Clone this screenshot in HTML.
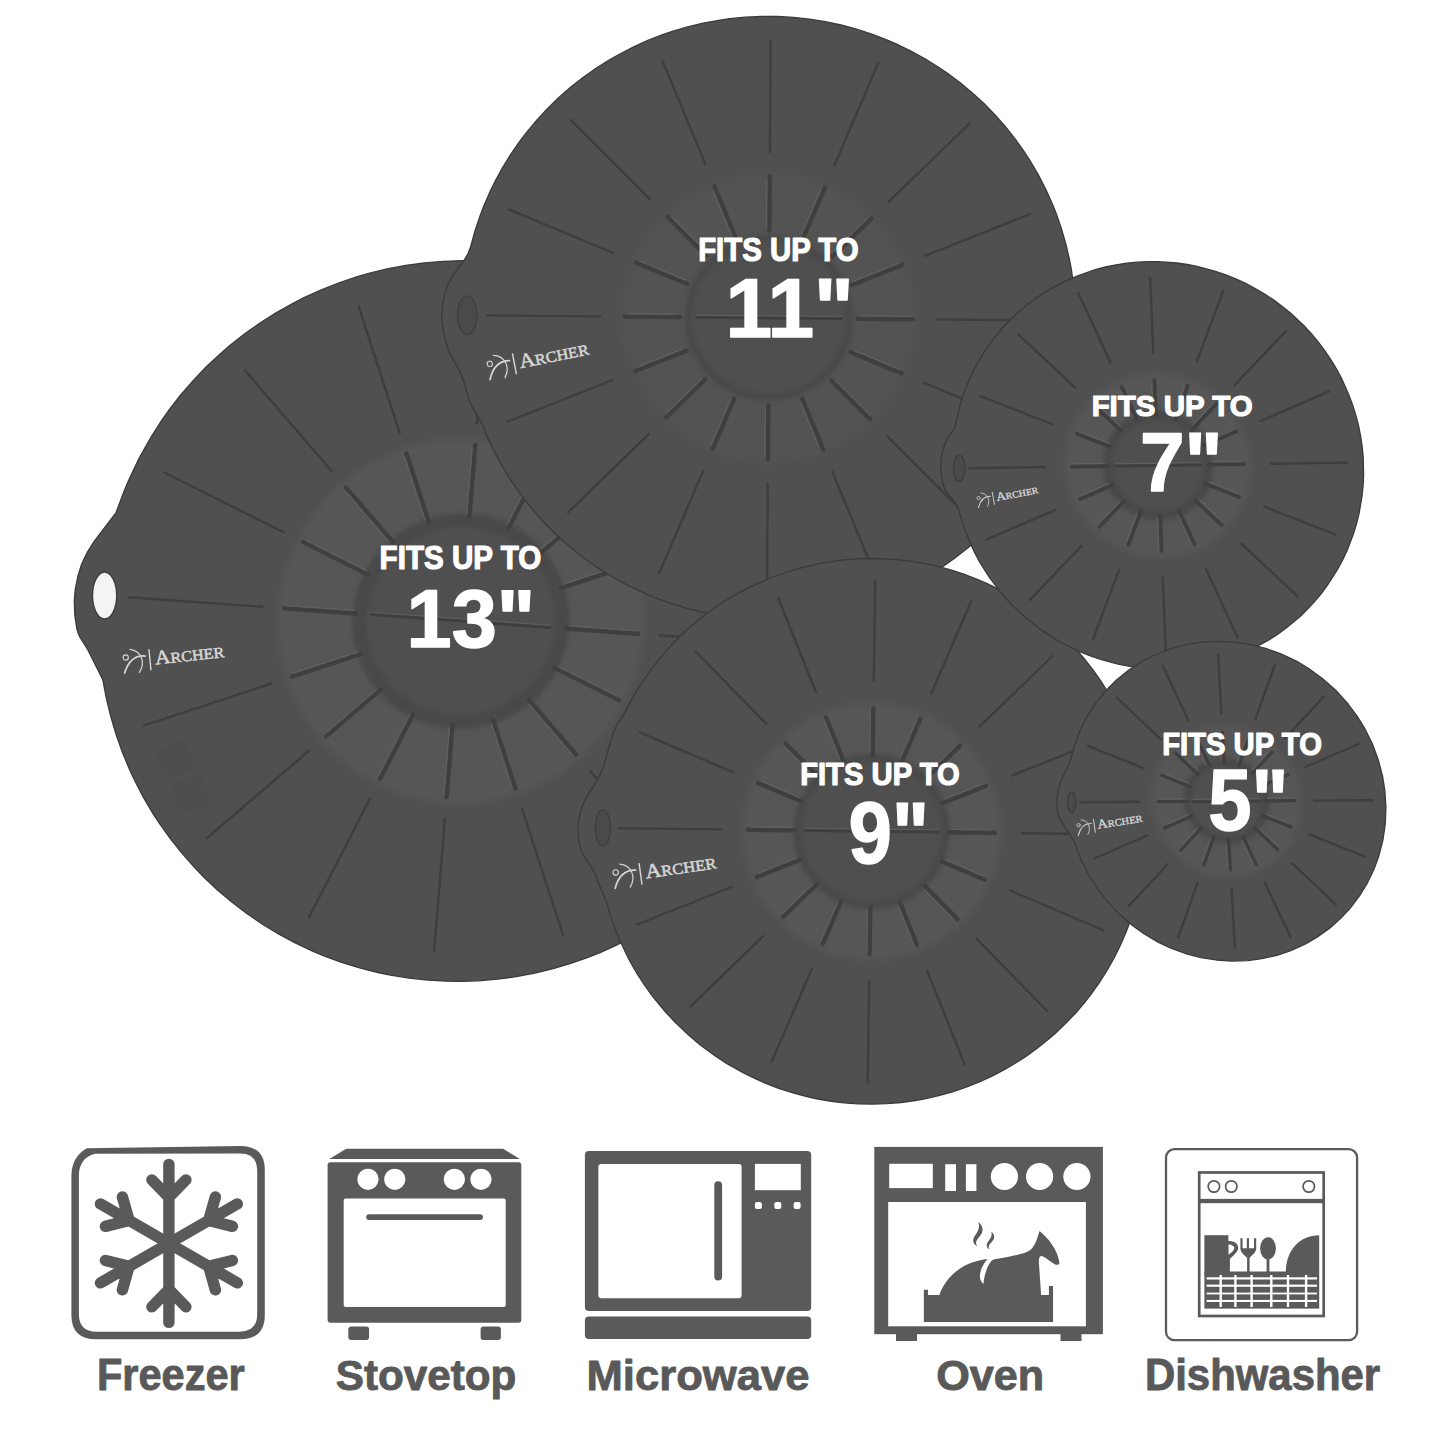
<!DOCTYPE html>
<html><head><meta charset="utf-8"><style>
html,body{margin:0;padding:0;background:#fff;}
svg{display:block;}
</style></head><body>
<svg width="1445" height="1445" viewBox="0 0 1445 1445">
<rect width="1445" height="1445" fill="#ffffff"/>
<filter id="soft" x="-20%" y="-20%" width="140%" height="140%"><feGaussianBlur stdDeviation="3"/></filter>
<filter id="soft2" x="-20%" y="-20%" width="140%" height="140%"><feGaussianBlur stdDeviation="2"/></filter>
<clipPath id="clip0"><path d="M102.2,678.5 L103.1,681.1 L106.2,697.6 L110.6,715.9 L115.9,733.9 L122.1,751.6 L129.3,769 L134.7,780.5 L143.3,797.2 L152.8,813.3 L159.8,823.9 L170.7,839.2 L182.5,853.9 L194.9,867.9 L203.7,877 L217.4,889.9 L231.8,902.1 L246.8,913.5 L262.4,924.2 L278.5,933.9 L295.2,942.9 L312.1,950.9 L323.9,955.8 L341.6,962.3 L359.7,967.9 L377.9,972.5 L390.4,975.1 L409.1,978.1 L427.9,980.1 L446.7,981.2 L459.5,981.4 L478.4,980.8 L497.4,979.2 L516.2,976.7 L534.8,973.1 L553.3,968.6 L571.5,963.2 L589.3,956.9 L601.2,952.1 L618.5,944.2 L635.3,935.4 L651.6,925.8 L667.5,915.3 L682.8,904 L697.4,891.9 L707,883.4 L720.5,870.2 L733.3,856.2 L745.5,841.6 L753.2,831.5 L763.9,816 L773.9,799.8 L783,783.2 L788.7,771.8 L796.3,754.5 L803,736.8 L808.8,718.8 L813.6,700.5 L817.5,682 L820.3,663.4 L822.2,644.6 L823,631.9 L823.2,613.2 L822.5,594.3 L820.7,575.5 L818,556.9 L814.3,538.4 L811.3,526.1 L806,508.2 L799.7,490.4 L792.5,473 L787.2,461.5 L778.5,444.8 L769,428.7 L762.1,418.1 L751.1,402.8 L739.4,388.1 L727,374.1 L718.1,365 L704.4,352.1 L690.1,339.9 L675.1,328.5 L659.5,317.9 L643.3,308.1 L626.7,299.2 L609.7,291.2 L598,286.3 L580.2,279.8 L562.2,274.2 L544,269.6 L531.5,267 L512.8,263.9 L493.9,261.9 L475.1,260.8 L462.4,260.7 L443.4,261.3 L424.5,262.8 L405.7,265.4 L387,268.9 L368.7,273.4 L356.4,276.9 L338.4,283 L320.7,290 L303.5,297.8 L292.1,303.7 L275.6,313 L259.6,323.2 L244.1,334.2 L229.2,346 L219.6,354.4 L205.8,367.3 L192.7,381.1 L180.3,395.5 L168.7,410.5 L161.4,420.9 L151.2,436.8 L138.8,458.9 L128,481.8 L123.2,493.5 L115.9,513 L93.8,541.9 L87.3,552.4 L81.6,564.2 L78,575.7 L75.2,589.9 L74.3,600.5 L74.8,615.2 L76.8,628.7 L78.1,633.1 L79.7,636.8 L87.8,649.7 L102.2,678.5Z"/></clipPath>
<path d="M102.2,678.5 L103.1,681.1 L106.2,697.6 L110.6,715.9 L115.9,733.9 L122.1,751.6 L129.3,769 L134.7,780.5 L143.3,797.2 L152.8,813.3 L159.8,823.9 L170.7,839.2 L182.5,853.9 L194.9,867.9 L203.7,877 L217.4,889.9 L231.8,902.1 L246.8,913.5 L262.4,924.2 L278.5,933.9 L295.2,942.9 L312.1,950.9 L323.9,955.8 L341.6,962.3 L359.7,967.9 L377.9,972.5 L390.4,975.1 L409.1,978.1 L427.9,980.1 L446.7,981.2 L459.5,981.4 L478.4,980.8 L497.4,979.2 L516.2,976.7 L534.8,973.1 L553.3,968.6 L571.5,963.2 L589.3,956.9 L601.2,952.1 L618.5,944.2 L635.3,935.4 L651.6,925.8 L667.5,915.3 L682.8,904 L697.4,891.9 L707,883.4 L720.5,870.2 L733.3,856.2 L745.5,841.6 L753.2,831.5 L763.9,816 L773.9,799.8 L783,783.2 L788.7,771.8 L796.3,754.5 L803,736.8 L808.8,718.8 L813.6,700.5 L817.5,682 L820.3,663.4 L822.2,644.6 L823,631.9 L823.2,613.2 L822.5,594.3 L820.7,575.5 L818,556.9 L814.3,538.4 L811.3,526.1 L806,508.2 L799.7,490.4 L792.5,473 L787.2,461.5 L778.5,444.8 L769,428.7 L762.1,418.1 L751.1,402.8 L739.4,388.1 L727,374.1 L718.1,365 L704.4,352.1 L690.1,339.9 L675.1,328.5 L659.5,317.9 L643.3,308.1 L626.7,299.2 L609.7,291.2 L598,286.3 L580.2,279.8 L562.2,274.2 L544,269.6 L531.5,267 L512.8,263.9 L493.9,261.9 L475.1,260.8 L462.4,260.7 L443.4,261.3 L424.5,262.8 L405.7,265.4 L387,268.9 L368.7,273.4 L356.4,276.9 L338.4,283 L320.7,290 L303.5,297.8 L292.1,303.7 L275.6,313 L259.6,323.2 L244.1,334.2 L229.2,346 L219.6,354.4 L205.8,367.3 L192.7,381.1 L180.3,395.5 L168.7,410.5 L161.4,420.9 L151.2,436.8 L138.8,458.9 L128,481.8 L123.2,493.5 L115.9,513 L93.8,541.9 L87.3,552.4 L81.6,564.2 L78,575.7 L75.2,589.9 L74.3,600.5 L74.8,615.2 L76.8,628.7 L78.1,633.1 L79.7,636.8 L87.8,649.7 L102.2,678.5Z" fill="#505050"/>
<g clip-path="url(#clip0)">
<path d="M621.3,532.1 L625.7,540.5 L629.6,549.2 L633.1,558 L636.1,567 L638.6,576.2 L640.7,585.5 L642.2,594.9 L643.3,604.3 L643.8,613.8 L643.9,623.4 L643.4,632.9 L642.4,642.4 L641,651.8 L639,661.2 L636.6,670.4 L633.7,679.5 L630.3,688.4 L626.4,697.2 L622.1,705.7 L617.4,714 L612.2,722.1 L606.6,729.9 L600.6,737.4 L594.2,744.5 L587.5,751.3 L580.4,757.8 L573,763.9 L565.3,769.6 L557.2,774.9 L549,779.8 L540.5,784.2 L531.7,788.2 L522.8,791.7 L513.7,794.8 L504.5,797.4 L495.1,799.5 L485.6,801.1 L476.1,802.2 L466.6,802.9 L457,803 L447.4,802.6 L437.9,801.7 L428.4,800.4 L419,798.5 L409.8,796.2 L400.6,793.4 L391.7,790.1 L382.9,786.3 L374.4,782.1 L366,777.4 L358,772.3 L350.2,766.9 L342.7,761 L335.6,754.7 L328.8,748 L322.3,741 L316.3,733.7 L310.6,726.1 L305.4,718.2 L300.5,710 L296.1,701.5 L292.2,692.9 L288.7,684 L285.7,675 L283.2,665.8 L281.2,656.6 L279.6,647.2 L278.6,637.7 L278,628.2 L278,618.7 L278.5,609.2 L279.4,599.7 L280.9,590.2 L282.8,580.9 L285.3,571.7 L288.2,562.6 L291.6,553.6 L295.4,544.9 L299.7,536.3 L304.5,528 L309.7,519.9 L315.3,512.2 L321.3,504.7 L327.6,497.5 L334.4,490.7 L341.5,484.2 L348.9,478.1 L356.6,472.4 L364.6,467.1 L372.9,462.3 L381.4,457.8 L390.1,453.8 L399.1,450.3 L408.2,447.2 L417.4,444.7 L426.8,442.5 L436.2,440.9 L445.7,439.8 L455.3,439.2 L464.9,439.1 L474.4,439.4 L484,440.3 L493.4,441.7 L502.8,443.5 L512.1,445.9 L521.2,448.7 L530.2,452 L538.9,455.7 L547.5,460 L555.8,464.6 L563.9,469.7 L571.6,475.2 L579.1,481.1 L586.3,487.4 L593.1,494 L599.5,501 L605.6,508.3 L611.2,516 L616.5,523.9Z" fill="#575757" filter="url(#soft)"/>
<path d="M556.2,568.2 L558.8,573.2 L561.2,578.3 L563.2,583.6 L565,588.9 L566.5,594.4 L567.7,599.9 L568.6,605.5 L569.2,611.1 L569.6,616.8 L569.6,622.4 L569.3,628.1 L568.8,633.7 L567.9,639.3 L566.7,644.9 L565.3,650.3 L563.6,655.8 L561.5,661.1 L559.2,666.3 L556.7,671.3 L553.9,676.3 L550.8,681.1 L547.5,685.7 L543.9,690.1 L540.1,694.4 L536.1,698.4 L531.9,702.3 L527.5,705.9 L522.9,709.3 L518.1,712.4 L513.2,715.3 L508.2,718 L503,720.3 L497.7,722.4 L492.3,724.3 L486.8,725.8 L481.2,727 L475.6,728 L470,728.7 L464.3,729 L458.6,729.1 L452.9,728.9 L447.2,728.4 L441.6,727.6 L436,726.5 L430.5,725.1 L425.1,723.4 L419.8,721.4 L414.6,719.2 L409.5,716.7 L404.6,713.9 L399.8,710.9 L395.2,707.7 L390.7,704.1 L386.5,700.4 L382.4,696.5 L378.6,692.3 L375,688 L371.6,683.4 L368.5,678.7 L365.6,673.9 L363,668.9 L360.7,663.7 L358.6,658.5 L356.9,653.1 L355.4,647.7 L354.1,642.1 L353.2,636.6 L352.6,630.9 L352.3,625.3 L352.3,619.6 L352.5,614 L353.1,608.3 L354,602.7 L355.1,597.2 L356.6,591.7 L358.3,586.3 L360.3,581 L362.6,575.8 L365.2,570.7 L368,565.8 L371.1,561 L374.4,556.4 L378,551.9 L381.7,547.7 L385.7,543.6 L390,539.8 L394.4,536.1 L399,532.8 L403.7,529.6 L408.6,526.7 L413.7,524.1 L418.9,521.7 L424.2,519.6 L429.6,517.8 L435.1,516.2 L440.6,515 L446.2,514 L451.9,513.4 L457.6,513 L463.3,512.9 L469,513.1 L474.6,513.7 L480.2,514.5 L485.8,515.6 L491.3,517 L496.7,518.6 L502.1,520.6 L507.3,522.8 L512.4,525.3 L517.3,528.1 L522.1,531.1 L526.7,534.4 L531.1,537.9 L535.4,541.6 L539.4,545.6 L543.3,549.7 L546.9,554.1 L550.2,558.6 L553.3,563.3Z" fill="#484848" filter="url(#soft2)"/>
<path d="M543.5,575.2 L545.8,579.6 L547.8,584 L549.6,588.6 L551.1,593.2 L552.4,597.9 L553.5,602.7 L554.3,607.6 L554.8,612.4 L555.1,617.3 L555.1,622.2 L554.9,627.1 L554.4,632 L553.6,636.9 L552.6,641.7 L551.4,646.4 L549.9,651.1 L548.1,655.7 L546.1,660.2 L543.9,664.6 L541.5,668.9 L538.8,673.1 L535.9,677.1 L532.8,680.9 L529.6,684.6 L526.1,688.1 L522.4,691.5 L518.6,694.6 L514.6,697.5 L510.5,700.2 L506.3,702.8 L501.9,705 L497.4,707.1 L492.8,708.9 L488.1,710.5 L483.3,711.8 L478.5,712.9 L473.7,713.7 L468.7,714.3 L463.8,714.6 L458.9,714.7 L454,714.5 L449.1,714.1 L444.2,713.4 L439.4,712.4 L434.6,711.2 L429.9,709.7 L425.3,708 L420.8,706.1 L416.4,703.9 L412.1,701.5 L407.9,698.9 L403.9,696.1 L400.1,693.1 L396.4,689.8 L392.9,686.4 L389.6,682.8 L386.5,679 L383.5,675.1 L380.8,671 L378.4,666.8 L376.1,662.5 L374.1,658 L372.3,653.5 L370.7,648.8 L369.4,644.1 L368.4,639.3 L367.6,634.5 L367.1,629.6 L366.8,624.7 L366.7,619.8 L367,614.9 L367.5,610 L368.2,605.2 L369.2,600.4 L370.5,595.6 L372,590.9 L373.7,586.3 L375.7,581.8 L377.9,577.4 L380.4,573.1 L383.1,569 L385.9,565 L389,561.1 L392.3,557.4 L395.8,553.9 L399.4,550.6 L403.2,547.5 L407.2,544.5 L411.3,541.8 L415.6,539.3 L420,537 L424.5,534.9 L429.1,533.1 L433.8,531.6 L438.5,530.2 L443.3,529.1 L448.2,528.3 L453.1,527.7 L458,527.4 L463,527.3 L467.9,527.5 L472.8,528 L477.7,528.7 L482.5,529.6 L487.3,530.8 L492,532.3 L496.6,534 L501.1,535.9 L505.5,538.1 L509.8,540.5 L513.9,543.1 L517.9,545.9 L521.8,549 L525.5,552.2 L529,555.6 L532.3,559.2 L535.4,563 L538.3,566.9 L541,571Z" fill="#4f4f4f" filter="url(#soft2)"/>
<path d="M262.3,606.8 L128.7,597.2 M283.6,532.2 L164.2,472.5 M331.8,471.2 L245,370.4 M399.7,432.9 L358.6,306.4 M477,423.3 L487.7,290.4 M551.7,443.8 L612.8,324.6 M612.7,491.3 L714.8,404 M650.6,558.5 L778.1,516.5 M659.6,635.2 L793.2,644.8 M638.3,709.8 L757.6,769.5 M590,770.9 L676.9,871.7 M522.1,809.1 L563.3,935.6 M444.9,818.7 L434.1,951.7 M370.1,798.2 L309,917.4 M309.1,750.7 L207,838 M271.3,683.5 L143.7,725.6" stroke="#3e3e3e" stroke-width="2.4" stroke-linecap="round" fill="none"/>
<path d="M356.2,613.5 L284,608.3 M367.4,574.2 L302.9,541.9 M392.9,542 L345.9,487.5 M428.7,521.9 L406.4,453.5 M469.4,516.8 L475.2,444.9 M508.8,527.6 L541.8,463.2 M541,552.6 L596.2,505.5 M560.9,588.1 L629.9,565.3 M565.7,628.5 L637.9,633.7 M554.5,667.8 L618.9,700.1 M529,700 L576,754.5 M493.2,720.2 L515.5,788.6 M452.5,725.3 L446.6,797.1 M413,714.4 L380,778.9 M380.9,689.4 L325.7,736.6 M360.9,654 L292,676.7" stroke="#3f3f3f" stroke-width="4.4" stroke-linecap="round" fill="none"/>
<path d="M353.4,610.4 L287.2,605.7 M366,570.3 L306.9,540.7 M388.7,541.6 L345.7,491.7 M425,519.9 L404.6,457.2 M466.7,513.6 L472.1,447.7 M507.6,523.6 L537.9,464.5 M541.4,548.5 L592,505.2 M562.9,584.4 L626.1,563.5 M568.9,625.8 L635.1,630.6 M558.4,666.6 L617.6,696.2 M528.8,704.2 L571.8,754.1 M491.4,723.9 L511.8,786.6 M449.3,728 L444,793.9 M409.1,715.8 L378.8,774.9 M376.7,689.2 L326.1,732.4 M357.2,652.2 L293.9,673" stroke="#606060" stroke-width="1.3" stroke-linecap="round" fill="none"/>
<path d="M371.7,614.6 L550.1,627.4" stroke="#606060" stroke-width="1.4" fill="none" transform="translate(0,-2)"/>
<path d="M371.7,614.6 L550.1,627.4" stroke="#3f3f3f" stroke-width="3" stroke-linecap="round" fill="none"/>
</g>
<ellipse cx="104.6" cy="595.5" rx="12.1" ry="23.5" fill="#f4f4f4" stroke="#3e3e3e" stroke-width="1.4"/>
<path d="M102.2,678.5 L103.1,681.1 L106.2,697.6 L110.6,715.9 L115.9,733.9 L122.1,751.6 L129.3,769 L134.7,780.5 L143.3,797.2 L152.8,813.3 L159.8,823.9 L170.7,839.2 L182.5,853.9 L194.9,867.9 L203.7,877 L217.4,889.9 L231.8,902.1 L246.8,913.5 L262.4,924.2 L278.5,933.9 L295.2,942.9 L312.1,950.9 L323.9,955.8 L341.6,962.3 L359.7,967.9 L377.9,972.5 L390.4,975.1 L409.1,978.1 L427.9,980.1 L446.7,981.2 L459.5,981.4 L478.4,980.8 L497.4,979.2 L516.2,976.7 L534.8,973.1 L553.3,968.6 L571.5,963.2 L589.3,956.9 L601.2,952.1 L618.5,944.2 L635.3,935.4 L651.6,925.8 L667.5,915.3 L682.8,904 L697.4,891.9 L707,883.4 L720.5,870.2 L733.3,856.2 L745.5,841.6 L753.2,831.5 L763.9,816 L773.9,799.8 L783,783.2 L788.7,771.8 L796.3,754.5 L803,736.8 L808.8,718.8 L813.6,700.5 L817.5,682 L820.3,663.4 L822.2,644.6 L823,631.9 L823.2,613.2 L822.5,594.3 L820.7,575.5 L818,556.9 L814.3,538.4 L811.3,526.1 L806,508.2 L799.7,490.4 L792.5,473 L787.2,461.5 L778.5,444.8 L769,428.7 L762.1,418.1 L751.1,402.8 L739.4,388.1 L727,374.1 L718.1,365 L704.4,352.1 L690.1,339.9 L675.1,328.5 L659.5,317.9 L643.3,308.1 L626.7,299.2 L609.7,291.2 L598,286.3 L580.2,279.8 L562.2,274.2 L544,269.6 L531.5,267 L512.8,263.9 L493.9,261.9 L475.1,260.8 L462.4,260.7 L443.4,261.3 L424.5,262.8 L405.7,265.4 L387,268.9 L368.7,273.4 L356.4,276.9 L338.4,283 L320.7,290 L303.5,297.8 L292.1,303.7 L275.6,313 L259.6,323.2 L244.1,334.2 L229.2,346 L219.6,354.4 L205.8,367.3 L192.7,381.1 L180.3,395.5 L168.7,410.5 L161.4,420.9 L151.2,436.8 L138.8,458.9 L128,481.8 L123.2,493.5 L115.9,513 L93.8,541.9 L87.3,552.4 L81.6,564.2 L78,575.7 L75.2,589.9 L74.3,600.5 L74.8,615.2 L76.8,628.7 L78.1,633.1 L79.7,636.8 L87.8,649.7 L102.2,678.5Z" fill="none" stroke="#3a3a3a" stroke-width="1.3"/>
<g fill="#4c4c4c" stroke="#4a4a4a" stroke-width="1" opacity="0.45"><rect x="160" y="745" width="30" height="30" rx="3" transform="rotate(-20 175 760)"/><rect x="176" y="779" width="30" height="30" rx="3" transform="rotate(-20 191 794)"/></g>
<g transform="translate(155.4,664.6) rotate(-6.26) scale(1.000)" fill="#d6d6d6" stroke="#d6d6d6" stroke-linecap="round"><text x="0" y="0" font-family="'Liberation Serif', serif" font-size="20" stroke-width="0.5" textLength="69.7" lengthAdjust="spacingAndGlyphs">A<tspan font-size="15">RCHER</tspan></text><path d="M-4.8,-15.4 L-5.0,4.6" stroke-width="1.4" fill="none"/><path d="M-9.1,-9.6 Q-23.9,-12.5 -31.5,5.0" stroke-width="1.7" fill="none"/><path d="M-23.5,-17.8 C-12.8,-15.1 -9.1,-3.6 -16.7,6.0" stroke-width="1.2" fill="none"/><circle cx="-28.7" cy="-10.3" r="2.6" stroke-width="1.1" fill="none"/></g>
<clipPath id="clip1"><path d="M481.6,423 L487.4,436.9 L494.1,451.2 L501.7,465.2 L509.8,478.6 L515.8,487.6 L525.2,500.4 L535.3,512.7 L545.9,524.4 L553.5,532 L565.2,542.8 L577.5,553 L590.2,562.5 L599.1,568.6 L612.7,577 L626.7,584.8 L641.1,591.7 L655.9,598 L671,603.4 L686.3,608.1 L701.8,612 L712.4,614.2 L728.2,616.7 L744,618.4 L760.1,619.3 L776.1,619.4 L792.2,618.7 L808.1,617.1 L818.8,615.6 L834.5,612.7 L850.1,608.9 L865.4,604.4 L875.6,600.9 L890.4,595.1 L905,588.5 L919.2,581.1 L928.5,575.8 L941.9,567.3 L954.9,558.1 L967.4,548.2 L975.5,541.2 L987,530.4 L998,518.9 L1008.3,506.9 L1014.9,498.4 L1024.1,485.6 L1032.7,472.3 L1040.5,458.5 L1047.5,444.4 L1053.8,429.9 L1059.4,415.1 L1064.1,400 L1066.8,389.7 L1070.2,374.4 L1072.7,358.8 L1074.4,343.1 L1075.1,332.5 L1075.4,316.7 L1074.9,300.9 L1073.5,285.2 L1071.4,269.7 L1069.4,259.2 L1065.8,243.8 L1061.4,228.6 L1056.3,213.8 L1052.3,203.8 L1045.8,189.4 L1038.6,175.3 L1030.6,161.7 L1024.8,152.7 L1015.7,139.7 L1005.8,127.2 L995.3,115.2 L984.2,103.8 L972.4,93 L960.2,82.8 L947.5,73.3 L938.6,67.2 L925,58.8 L910.9,51.1 L896.6,44.1 L886.7,39.8 L871.7,34.1 L856.5,29.2 L841,25 L825.3,21.7 L809.4,19.1 L793.6,17.4 L777.6,16.5 L761.5,16.4 L745.5,17.2 L729.5,18.7 L718.8,20.3 L703.2,23.2 L687.6,26.9 L672.2,31.4 L662,34.9 L647.2,40.7 L632.7,47.3 L618.5,54.7 L609.1,60 L595.7,68.5 L582.7,77.7 L570.2,87.6 L558.3,98.1 L546.9,109.2 L536.1,120.9 L526,133.1 L519.5,141.6 L510.6,154.6 L502.3,168.1 L494.7,182 L490.1,191.6 L483.8,206 L480,215.9 L475,230.9 L470.5,247.2 L468.2,253.3 L464,260.6 L452.2,276.2 L450.3,279.4 L447.7,285 L444.8,293.8 L443.3,300.1 L442.3,306.7 L441.8,313.2 L441.9,319.7 L443.1,329.7 L445.2,339.7 L448,348.8 L450.9,355 L458.6,368.9 L461.3,374.6 L463.7,381.3 L467.9,396.4 L470.5,403.2 L474,410.3 L481.6,423Z"/></clipPath>
<path d="M481.6,423 L487.4,436.9 L494.1,451.2 L501.7,465.2 L509.8,478.6 L515.8,487.6 L525.2,500.4 L535.3,512.7 L545.9,524.4 L553.5,532 L565.2,542.8 L577.5,553 L590.2,562.5 L599.1,568.6 L612.7,577 L626.7,584.8 L641.1,591.7 L655.9,598 L671,603.4 L686.3,608.1 L701.8,612 L712.4,614.2 L728.2,616.7 L744,618.4 L760.1,619.3 L776.1,619.4 L792.2,618.7 L808.1,617.1 L818.8,615.6 L834.5,612.7 L850.1,608.9 L865.4,604.4 L875.6,600.9 L890.4,595.1 L905,588.5 L919.2,581.1 L928.5,575.8 L941.9,567.3 L954.9,558.1 L967.4,548.2 L975.5,541.2 L987,530.4 L998,518.9 L1008.3,506.9 L1014.9,498.4 L1024.1,485.6 L1032.7,472.3 L1040.5,458.5 L1047.5,444.4 L1053.8,429.9 L1059.4,415.1 L1064.1,400 L1066.8,389.7 L1070.2,374.4 L1072.7,358.8 L1074.4,343.1 L1075.1,332.5 L1075.4,316.7 L1074.9,300.9 L1073.5,285.2 L1071.4,269.7 L1069.4,259.2 L1065.8,243.8 L1061.4,228.6 L1056.3,213.8 L1052.3,203.8 L1045.8,189.4 L1038.6,175.3 L1030.6,161.7 L1024.8,152.7 L1015.7,139.7 L1005.8,127.2 L995.3,115.2 L984.2,103.8 L972.4,93 L960.2,82.8 L947.5,73.3 L938.6,67.2 L925,58.8 L910.9,51.1 L896.6,44.1 L886.7,39.8 L871.7,34.1 L856.5,29.2 L841,25 L825.3,21.7 L809.4,19.1 L793.6,17.4 L777.6,16.5 L761.5,16.4 L745.5,17.2 L729.5,18.7 L718.8,20.3 L703.2,23.2 L687.6,26.9 L672.2,31.4 L662,34.9 L647.2,40.7 L632.7,47.3 L618.5,54.7 L609.1,60 L595.7,68.5 L582.7,77.7 L570.2,87.6 L558.3,98.1 L546.9,109.2 L536.1,120.9 L526,133.1 L519.5,141.6 L510.6,154.6 L502.3,168.1 L494.7,182 L490.1,191.6 L483.8,206 L480,215.9 L475,230.9 L470.5,247.2 L468.2,253.3 L464,260.6 L452.2,276.2 L450.3,279.4 L447.7,285 L444.8,293.8 L443.3,300.1 L442.3,306.7 L441.8,313.2 L441.9,319.7 L443.1,329.7 L445.2,339.7 L448,348.8 L450.9,355 L458.6,368.9 L461.3,374.6 L463.7,381.3 L467.9,396.4 L470.5,403.2 L474,410.3 L481.6,423Z" fill="#505050"/>
<g clip-path="url(#clip1)">
<path d="M780.7,173.7 L788.3,174.5 L796,175.7 L803.5,177.3 L810.9,179.3 L818.2,181.7 L825.4,184.5 L832.5,187.6 L839.3,191 L846,194.9 L852.4,199 L858.7,203.5 L864.6,208.3 L870.4,213.4 L875.8,218.8 L880.9,224.4 L885.8,230.4 L890.3,236.5 L894.5,242.9 L898.3,249.5 L901.8,256.2 L904.9,263.2 L907.7,270.3 L910,277.5 L912,284.8 L913.6,292.2 L914.8,299.7 L915.6,307.3 L916,314.8 L915.9,322.4 L915.5,330 L914.7,337.5 L913.5,345 L911.9,352.4 L909.8,359.7 L907.5,366.9 L904.7,374 L901.5,380.9 L898,387.6 L894.1,394.2 L889.9,400.5 L885.4,406.6 L880.5,412.5 L875.4,418.1 L869.9,423.4 L864.2,428.4 L858.2,433.2 L851.9,437.6 L845.5,441.7 L838.8,445.5 L831.9,448.9 L824.9,451.9 L817.7,454.6 L810.3,456.9 L802.9,458.8 L795.3,460.4 L787.7,461.5 L780.1,462.3 L772.4,462.6 L764.7,462.6 L757,462.2 L749.3,461.3 L741.7,460.1 L734.2,458.5 L726.7,456.5 L719.4,454.1 L712.2,451.4 L705.2,448.3 L698.3,444.8 L691.6,441 L685.2,436.8 L679,432.3 L673,427.5 L667.3,422.4 L661.8,417 L656.7,411.4 L651.9,405.5 L647.3,399.3 L643.2,392.9 L639.3,386.4 L635.8,379.6 L632.7,372.7 L630,365.6 L627.6,358.3 L625.6,351 L624,343.6 L622.9,336.1 L622.1,328.6 L621.7,321 L621.7,313.4 L622.1,305.8 L622.9,298.3 L624.2,290.8 L625.8,283.4 L627.8,276.1 L630.2,268.9 L633,261.9 L636.1,255 L639.6,248.2 L643.5,241.7 L647.7,235.3 L652.2,229.2 L657.1,223.4 L662.3,217.8 L667.7,212.4 L673.5,207.4 L679.5,202.6 L685.7,198.2 L692.2,194.1 L698.9,190.4 L705.7,187 L712.8,183.9 L720,181.2 L727.3,178.9 L734.8,177 L742.3,175.5 L749.9,174.3 L757.6,173.6 L765.3,173.2 L773,173.2Z" fill="#525252" filter="url(#soft)"/>
<path d="M775.6,235.3 L780,235.7 L784.4,236.4 L788.7,237.4 L792.9,238.5 L797.1,239.9 L801.3,241.5 L805.3,243.2 L809.2,245.2 L813,247.4 L816.7,249.8 L820.3,252.4 L823.7,255.1 L827,258 L830.1,261.1 L833.1,264.4 L835.8,267.8 L838.4,271.3 L840.8,274.9 L843,278.7 L845,282.6 L846.8,286.6 L848.4,290.6 L849.7,294.8 L850.9,299 L851.8,303.2 L852.4,307.5 L852.9,311.8 L853.1,316.2 L853.1,320.5 L852.9,324.8 L852.4,329.1 L851.7,333.4 L850.8,337.7 L849.6,341.9 L848.2,346 L846.7,350 L844.9,354 L842.8,357.8 L840.6,361.6 L838.2,365.2 L835.6,368.7 L832.8,372.1 L829.9,375.3 L826.7,378.4 L823.4,381.2 L820,384 L816.4,386.5 L812.7,388.8 L808.9,391 L805,392.9 L800.9,394.7 L796.8,396.2 L792.6,397.5 L788.3,398.6 L784,399.5 L779.6,400.2 L775.3,400.6 L770.8,400.8 L766.4,400.8 L762,400.6 L757.6,400.1 L753.3,399.4 L749,398.5 L744.7,397.3 L740.5,396 L736.4,394.4 L732.4,392.6 L728.4,390.6 L724.6,388.4 L720.9,386 L717.3,383.5 L713.9,380.7 L710.6,377.8 L707.5,374.7 L704.6,371.5 L701.8,368.1 L699.2,364.6 L696.8,360.9 L694.6,357.1 L692.6,353.3 L690.8,349.3 L689.3,345.2 L687.9,341.1 L686.8,336.9 L685.9,332.6 L685.2,328.3 L684.7,324 L684.5,319.7 L684.5,315.3 L684.8,311 L685.2,306.7 L685.9,302.4 L686.9,298.2 L688,294 L689.4,289.8 L691,285.8 L692.8,281.8 L694.8,278 L697,274.2 L699.4,270.6 L702,267.1 L704.8,263.7 L707.8,260.5 L710.9,257.5 L714.2,254.6 L717.6,251.9 L721.2,249.3 L724.9,247 L728.7,244.8 L732.7,242.9 L736.7,241.1 L740.8,239.6 L745,238.3 L749.3,237.2 L753.6,236.3 L758,235.6 L762.4,235.2 L766.8,235 L771.2,235Z" fill="#484848" filter="url(#soft2)"/>
<path d="M775,242.8 L779,243.2 L783,243.9 L786.9,244.7 L790.8,245.7 L794.6,247 L798.3,248.4 L802,250 L805.5,251.8 L809,253.8 L812.4,256 L815.6,258.3 L818.7,260.8 L821.7,263.5 L824.5,266.3 L827.2,269.2 L829.7,272.3 L832.1,275.5 L834.3,278.8 L836.3,282.3 L838.1,285.8 L839.7,289.4 L841.1,293.1 L842.4,296.9 L843.4,300.7 L844.2,304.5 L844.8,308.4 L845.3,312.4 L845.5,316.3 L845.4,320.3 L845.2,324.2 L844.8,328.1 L844.2,332 L843.3,335.9 L842.3,339.7 L841,343.4 L839.6,347.1 L837.9,350.7 L836.1,354.2 L834.1,357.6 L831.9,360.9 L829.5,364.1 L827,367.2 L824.3,370.1 L821.5,372.9 L818.5,375.5 L815.4,378 L812.1,380.3 L808.7,382.4 L805.3,384.3 L801.7,386.1 L798,387.7 L794.3,389.1 L790.4,390.3 L786.6,391.3 L782.6,392.1 L778.7,392.7 L774.7,393.1 L770.7,393.3 L766.6,393.3 L762.6,393 L758.7,392.6 L754.7,392 L750.8,391.1 L746.9,390.1 L743.1,388.9 L739.3,387.4 L735.7,385.8 L732.1,384 L728.6,382 L725.3,379.8 L722,377.5 L718.9,375 L715.9,372.3 L713.1,369.5 L710.4,366.6 L707.9,363.5 L705.6,360.3 L703.4,357 L701.4,353.6 L699.6,350 L697.9,346.4 L696.5,342.7 L695.3,339 L694.2,335.2 L693.4,331.3 L692.8,327.4 L692.4,323.5 L692.2,319.5 L692.2,315.6 L692.4,311.6 L692.8,307.7 L693.5,303.8 L694.3,300 L695.4,296.1 L696.6,292.4 L698.1,288.7 L699.7,285.1 L701.5,281.6 L703.5,278.2 L705.7,274.9 L708.1,271.7 L710.6,268.7 L713.3,265.8 L716.2,263 L719.2,260.3 L722.3,257.9 L725.5,255.6 L728.9,253.4 L732.4,251.5 L736,249.7 L739.6,248.1 L743.4,246.7 L747.2,245.5 L751.1,244.5 L755,243.7 L759,243.1 L763,242.7 L767,242.5 L771,242.6Z" fill="#4f4f4f" filter="url(#soft2)"/>
<path d="M600.2,316.4 L486.7,315.4 M613.4,253 L508.9,209.4 M650.3,199.6 L570.6,119.9 M705.3,164.1 L662.5,60.6 M769.9,152.1 L770.6,40.5 M834.4,165.3 L878.4,62.6 M888.8,201.7 L969.6,123.5 M925,255.8 L1030.1,214.1 M937.5,319.4 L1050.9,320.5 M924.2,382.8 L1028.7,426.4 M887.3,436.3 L967,515.9 M832.4,471.7 L875.1,575.2 M767.7,483.8 L767,595.3 M703.3,470.6 L659.2,573.3 M648.8,434.1 L568.1,512.3 M612.6,380 L507.5,421.7" stroke="#3e3e3e" stroke-width="2.4" stroke-linecap="round" fill="none"/>
<path d="M679.9,317.1 L624.7,316.6 M686.9,283.7 L636,262.5 M706.3,255.5 L667.6,216.8 M735.3,236.8 L714.5,186.5 M769.4,230.5 L769.7,176.2 M803.4,237.4 L824.8,187.5 M832.1,256.6 L871.4,218.6 M851.2,285.2 L902.3,264.9 M857.7,318.7 L912.9,319.2 M850.8,352.1 L901.6,373.4 M831.3,380.3 L870.1,419.1 M802.3,399 L823.1,449.4 M768.3,405.4 L767.9,459.6 M734.3,398.4 L712.8,448.4 M705.5,379.2 L666.3,417.2 M686.5,350.6 L635.3,371" stroke="#3f3f3f" stroke-width="4.4" stroke-linecap="round" fill="none"/>
<path d="M676.9,314.2 L627.7,313.7 M685.2,279.9 L639.9,261 M706.3,251.3 L671.7,216.8 M731.5,235.1 L713,190.4 M766.5,227.4 L766.8,179.2 M801.9,233.5 L821,189.1 M832.2,252.5 L867.2,218.6 M852.9,281.4 L898.5,263.3 M860.8,315.8 L910,316.3 M854.6,350.6 L900,369.5 M835.5,380.4 L870,414.9 M800.8,402.9 L819.3,447.7 M765.3,408.3 L765,456.6 M730.4,400 L711.3,444.5 M701.4,379.2 L666.4,413 M682.6,349.1 L637,367.2" stroke="#606060" stroke-width="1.3" stroke-linecap="round" fill="none"/>
<path d="M696,317.3 L841.6,318.6" stroke="#606060" stroke-width="1.4" fill="none" transform="translate(0,-2)"/>
<path d="M696,317.3 L841.6,318.6" stroke="#3f3f3f" stroke-width="3" stroke-linecap="round" fill="none"/>
</g>
<ellipse cx="467.3" cy="315.2" rx="9.6" ry="19.3" fill="#4a4a4a" stroke="#3e3e3e" stroke-width="1.4"/>
<path d="M481.6,423 L487.4,436.9 L494.1,451.2 L501.7,465.2 L509.8,478.6 L515.8,487.6 L525.2,500.4 L535.3,512.7 L545.9,524.4 L553.5,532 L565.2,542.8 L577.5,553 L590.2,562.5 L599.1,568.6 L612.7,577 L626.7,584.8 L641.1,591.7 L655.9,598 L671,603.4 L686.3,608.1 L701.8,612 L712.4,614.2 L728.2,616.7 L744,618.4 L760.1,619.3 L776.1,619.4 L792.2,618.7 L808.1,617.1 L818.8,615.6 L834.5,612.7 L850.1,608.9 L865.4,604.4 L875.6,600.9 L890.4,595.1 L905,588.5 L919.2,581.1 L928.5,575.8 L941.9,567.3 L954.9,558.1 L967.4,548.2 L975.5,541.2 L987,530.4 L998,518.9 L1008.3,506.9 L1014.9,498.4 L1024.1,485.6 L1032.7,472.3 L1040.5,458.5 L1047.5,444.4 L1053.8,429.9 L1059.4,415.1 L1064.1,400 L1066.8,389.7 L1070.2,374.4 L1072.7,358.8 L1074.4,343.1 L1075.1,332.5 L1075.4,316.7 L1074.9,300.9 L1073.5,285.2 L1071.4,269.7 L1069.4,259.2 L1065.8,243.8 L1061.4,228.6 L1056.3,213.8 L1052.3,203.8 L1045.8,189.4 L1038.6,175.3 L1030.6,161.7 L1024.8,152.7 L1015.7,139.7 L1005.8,127.2 L995.3,115.2 L984.2,103.8 L972.4,93 L960.2,82.8 L947.5,73.3 L938.6,67.2 L925,58.8 L910.9,51.1 L896.6,44.1 L886.7,39.8 L871.7,34.1 L856.5,29.2 L841,25 L825.3,21.7 L809.4,19.1 L793.6,17.4 L777.6,16.5 L761.5,16.4 L745.5,17.2 L729.5,18.7 L718.8,20.3 L703.2,23.2 L687.6,26.9 L672.2,31.4 L662,34.9 L647.2,40.7 L632.7,47.3 L618.5,54.7 L609.1,60 L595.7,68.5 L582.7,77.7 L570.2,87.6 L558.3,98.1 L546.9,109.2 L536.1,120.9 L526,133.1 L519.5,141.6 L510.6,154.6 L502.3,168.1 L494.7,182 L490.1,191.6 L483.8,206 L480,215.9 L475,230.9 L470.5,247.2 L468.2,253.3 L464,260.6 L452.2,276.2 L450.3,279.4 L447.7,285 L444.8,293.8 L443.3,300.1 L442.3,306.7 L441.8,313.2 L441.9,319.7 L443.1,329.7 L445.2,339.7 L448,348.8 L450.9,355 L458.6,368.9 L461.3,374.6 L463.7,381.3 L467.9,396.4 L470.5,403.2 L474,410.3 L481.6,423Z" fill="none" stroke="#3a3a3a" stroke-width="1.3"/>
<g transform="translate(520.4,368.3) rotate(-11.50) scale(1.015)" fill="#d6d6d6" stroke="#d6d6d6" stroke-linecap="round"><text x="0" y="0" font-family="'Liberation Serif', serif" font-size="20" stroke-width="0.5" textLength="69.7" lengthAdjust="spacingAndGlyphs">A<tspan font-size="15">RCHER</tspan></text><path d="M-4.8,-15.4 L-5.0,4.6" stroke-width="1.4" fill="none"/><path d="M-9.1,-9.6 Q-23.9,-12.5 -31.5,5.0" stroke-width="1.7" fill="none"/><path d="M-23.5,-17.8 C-12.8,-15.1 -9.1,-3.6 -16.7,6.0" stroke-width="1.2" fill="none"/><circle cx="-28.7" cy="-10.3" r="2.6" stroke-width="1.1" fill="none"/></g>
<clipPath id="clip2"><path d="M624.3,713.8 L617.3,724.1 L613.9,731.2 L610.9,740.1 L604.4,763.7 L601.3,772.4 L596.6,781.4 L586.4,796.9 L583.8,802.4 L581,810 L578.6,819.8 L577.8,829.8 L578.5,840 L580.9,849.7 L583.8,855.8 L591.8,867.7 L595.2,874.5 L600.8,888.7 L605.8,899.9 L610.9,917.1 L615.7,930.5 L619.4,939.5 L625.4,952.3 L629.8,960.9 L636.9,973.3 L644.7,985.3 L653,996.8 L665.1,1011.5 L674.9,1022 L688.6,1035.1 L699.6,1044.4 L714.9,1055.7 L727,1063.6 L743.5,1072.9 L756.4,1079.2 L765.2,1083.1 L778.6,1088.3 L792.2,1092.7 L806,1096.4 L815.4,1098.5 L829.5,1101 L843.8,1102.8 L858.1,1103.9 L872.5,1104.1 L886.8,1103.7 L901.1,1102.5 L915.2,1100.5 L924.8,1098.8 L938.8,1095.6 L952.5,1091.8 L966.1,1087.2 L979.4,1081.8 L992.5,1075.8 L1005.2,1069.2 L1013.6,1064.3 L1025.6,1056.6 L1037.2,1048.3 L1048.4,1039.3 L1055.7,1032.9 L1066,1023.1 L1075.9,1012.7 L1085.2,1001.8 L1091.1,994.2 L1099.3,982.6 L1107,970.5 L1114.1,958 L1120.4,945.2 L1126.1,932.1 L1131.1,918.7 L1135.4,905 L1137.8,895.7 L1140.9,881.8 L1143.2,867.7 L1144.8,853.5 L1145.4,843.9 L1145.8,829.7 L1145.3,815.5 L1144.2,801.2 L1142.9,791.7 L1140.5,777.6 L1137.4,763.7 L1133.5,749.9 L1128.9,736.5 L1125.4,727.5 L1119.6,714.5 L1113.2,701.7 L1106.1,689.4 L1101,681.3 L1092.8,669.6 L1084,658.3 L1074.7,647.5 L1064.7,637.2 L1054.3,627.4 L1043.3,618.2 L1032,609.7 L1024,604.2 L1011.9,596.6 L999.4,589.6 L986.6,583.4 L977.8,579.5 L964.4,574.3 L950.7,569.9 L937,566.2 L927.6,564.1 L913.4,561.6 L899.2,559.8 L884.9,558.8 L870.5,558.5 L856.2,558.9 L841.8,560.1 L827.7,562.1 L818.2,563.8 L804.2,567 L790.5,570.8 L776.9,575.5 L763.5,580.8 L750.5,586.8 L737.8,593.4 L729.4,598.3 L717.4,606 L705.7,614.3 L694.5,623.3 L687.2,629.7 L676.9,639.5 L667.1,649.9 L657.8,660.8 L651.9,668.4 L643.6,680 L636,692.1 L628.9,704.6 L624.3,713.8Z"/></clipPath>
<path d="M624.3,713.8 L617.3,724.1 L613.9,731.2 L610.9,740.1 L604.4,763.7 L601.3,772.4 L596.6,781.4 L586.4,796.9 L583.8,802.4 L581,810 L578.6,819.8 L577.8,829.8 L578.5,840 L580.9,849.7 L583.8,855.8 L591.8,867.7 L595.2,874.5 L600.8,888.7 L605.8,899.9 L610.9,917.1 L615.7,930.5 L619.4,939.5 L625.4,952.3 L629.8,960.9 L636.9,973.3 L644.7,985.3 L653,996.8 L665.1,1011.5 L674.9,1022 L688.6,1035.1 L699.6,1044.4 L714.9,1055.7 L727,1063.6 L743.5,1072.9 L756.4,1079.2 L765.2,1083.1 L778.6,1088.3 L792.2,1092.7 L806,1096.4 L815.4,1098.5 L829.5,1101 L843.8,1102.8 L858.1,1103.9 L872.5,1104.1 L886.8,1103.7 L901.1,1102.5 L915.2,1100.5 L924.8,1098.8 L938.8,1095.6 L952.5,1091.8 L966.1,1087.2 L979.4,1081.8 L992.5,1075.8 L1005.2,1069.2 L1013.6,1064.3 L1025.6,1056.6 L1037.2,1048.3 L1048.4,1039.3 L1055.7,1032.9 L1066,1023.1 L1075.9,1012.7 L1085.2,1001.8 L1091.1,994.2 L1099.3,982.6 L1107,970.5 L1114.1,958 L1120.4,945.2 L1126.1,932.1 L1131.1,918.7 L1135.4,905 L1137.8,895.7 L1140.9,881.8 L1143.2,867.7 L1144.8,853.5 L1145.4,843.9 L1145.8,829.7 L1145.3,815.5 L1144.2,801.2 L1142.9,791.7 L1140.5,777.6 L1137.4,763.7 L1133.5,749.9 L1128.9,736.5 L1125.4,727.5 L1119.6,714.5 L1113.2,701.7 L1106.1,689.4 L1101,681.3 L1092.8,669.6 L1084,658.3 L1074.7,647.5 L1064.7,637.2 L1054.3,627.4 L1043.3,618.2 L1032,609.7 L1024,604.2 L1011.9,596.6 L999.4,589.6 L986.6,583.4 L977.8,579.5 L964.4,574.3 L950.7,569.9 L937,566.2 L927.6,564.1 L913.4,561.6 L899.2,559.8 L884.9,558.8 L870.5,558.5 L856.2,558.9 L841.8,560.1 L827.7,562.1 L818.2,563.8 L804.2,567 L790.5,570.8 L776.9,575.5 L763.5,580.8 L750.5,586.8 L737.8,593.4 L729.4,598.3 L717.4,606 L705.7,614.3 L694.5,623.3 L687.2,629.7 L676.9,639.5 L667.1,649.9 L657.8,660.8 L651.9,668.4 L643.6,680 L636,692.1 L628.9,704.6 L624.3,713.8Z" fill="#505050"/>
<g clip-path="url(#clip2)">
<path d="M900.9,956.1 L894.3,957.5 L887.6,958.5 L880.9,959.2 L874.2,959.5 L867.4,959.5 L860.7,959.1 L854,958.4 L847.3,957.3 L840.7,955.9 L834.2,954.2 L827.8,952.1 L821.5,949.6 L815.4,946.9 L809.4,943.8 L803.5,940.5 L797.9,936.8 L792.5,932.8 L787.2,928.6 L782.3,924.1 L777.5,919.3 L773,914.3 L768.8,909.1 L764.9,903.6 L761.2,898 L757.9,892.2 L754.8,886.2 L752.1,880 L749.7,873.8 L747.7,867.4 L746,860.9 L744.6,854.3 L743.6,847.7 L742.9,841 L742.6,834.3 L742.6,827.6 L743,820.9 L743.8,814.2 L744.9,807.6 L746.3,801 L748.1,794.5 L750.2,788.2 L752.7,781.9 L755.4,775.8 L758.5,769.8 L761.9,764 L765.6,758.4 L769.6,753 L773.9,747.7 L778.5,742.8 L783.3,738 L788.3,733.6 L793.6,729.3 L799,725.4 L804.7,721.8 L810.6,718.4 L816.6,715.4 L822.8,712.7 L829.1,710.3 L835.5,708.2 L842.1,706.5 L848.7,705.1 L855.4,704.1 L862.1,703.4 L868.8,703.1 L875.6,703.1 L882.3,703.5 L889,704.2 L895.7,705.3 L902.3,706.7 L908.8,708.4 L915.2,710.5 L921.5,713 L927.6,715.7 L933.6,718.8 L939.4,722.2 L945.1,725.8 L950.5,729.8 L955.7,734 L960.7,738.5 L965.5,743.3 L970,748.3 L974.2,753.5 L978.1,759 L981.8,764.6 L985.1,770.4 L988.1,776.4 L990.8,782.6 L993.2,788.8 L995.3,795.2 L997,801.7 L998.4,808.3 L999.4,814.9 L1000,821.6 L1000.4,828.3 L1000.3,835 L999.9,841.7 L999.2,848.4 L998.1,855 L996.7,861.6 L994.9,868.1 L992.8,874.4 L990.3,880.7 L987.5,886.8 L984.4,892.8 L981,898.6 L977.3,904.2 L973.3,909.7 L969.1,914.9 L964.5,919.8 L959.7,924.6 L954.7,929 L949.4,933.3 L943.9,937.2 L938.2,940.8 L932.4,944.2 L926.4,947.2 L920.2,949.9 L913.9,952.3 L907.4,954.4Z" fill="#565656" filter="url(#soft)"/>
<path d="M889.3,907 L885.3,907.8 L881.3,908.4 L877.2,908.8 L873.1,909 L869,909 L864.9,908.8 L860.9,908.4 L856.8,907.7 L852.8,906.9 L848.9,905.8 L845,904.5 L841.2,903.1 L837.5,901.4 L833.8,899.5 L830.3,897.5 L826.9,895.3 L823.6,892.9 L820.4,890.3 L817.4,887.6 L814.5,884.7 L811.8,881.6 L809.2,878.5 L806.8,875.2 L804.6,871.7 L802.6,868.2 L800.8,864.6 L799.1,860.9 L797.7,857.1 L796.4,853.2 L795.4,849.2 L794.6,845.3 L793.9,841.2 L793.5,837.2 L793.3,833.1 L793.4,829.1 L793.6,825 L794,820.9 L794.7,816.9 L795.6,812.9 L796.7,809 L797.9,805.1 L799.4,801.3 L801.1,797.6 L803,794 L805.1,790.5 L807.3,787.1 L809.7,783.8 L812.3,780.6 L815.1,777.6 L818,774.7 L821,772 L824.2,769.5 L827.6,767.1 L831,764.9 L834.6,762.9 L838.2,761 L842,759.4 L845.8,757.9 L849.7,756.7 L853.7,755.6 L857.7,754.8 L861.7,754.2 L865.8,753.8 L869.9,753.6 L874,753.6 L878,753.8 L882.1,754.2 L886.1,754.9 L890.1,755.7 L894.1,756.8 L898,758.1 L901.8,759.5 L905.5,761.2 L909.2,763.1 L912.7,765.1 L916.1,767.3 L919.4,769.7 L922.6,772.3 L925.6,775 L928.5,777.9 L931.2,781 L933.8,784.1 L936.1,787.4 L938.4,790.9 L940.4,794.4 L942.2,798 L943.9,801.7 L945.3,805.5 L946.6,809.4 L947.6,813.4 L948.4,817.3 L949,821.4 L949.4,825.4 L949.6,829.5 L949.6,833.6 L949.4,837.6 L948.9,841.7 L948.3,845.7 L947.4,849.7 L946.3,853.6 L945,857.5 L943.5,861.3 L941.9,865 L940,868.6 L937.9,872.1 L935.7,875.5 L933.2,878.8 L930.7,882 L927.9,885 L925,887.9 L921.9,890.6 L918.7,893.1 L915.4,895.5 L912,897.7 L908.4,899.7 L904.8,901.6 L901,903.2 L897.2,904.7 L893.3,905.9Z" fill="#484848" filter="url(#soft2)"/>
<path d="M887.4,899 L883.9,899.7 L880.2,900.3 L876.6,900.7 L872.9,900.9 L869.3,900.8 L865.6,900.6 L862,900.3 L858.4,899.7 L854.8,898.9 L851.3,898 L847.8,896.8 L844.4,895.5 L841,894 L837.8,892.4 L834.6,890.5 L831.6,888.5 L828.6,886.4 L825.8,884.1 L823.1,881.6 L820.5,879.1 L818.1,876.3 L815.8,873.5 L813.6,870.5 L811.7,867.5 L809.8,864.3 L808.2,861.1 L806.7,857.7 L805.4,854.3 L804.3,850.9 L803.4,847.4 L802.7,843.8 L802.1,840.2 L801.7,836.6 L801.6,832.9 L801.6,829.3 L801.8,825.7 L802.2,822 L802.8,818.4 L803.6,814.9 L804.5,811.4 L805.7,807.9 L807,804.5 L808.5,801.2 L810.2,797.9 L812.1,794.8 L814.1,791.7 L816.2,788.8 L818.6,786 L821,783.3 L823.6,780.7 L826.4,778.3 L829.2,776 L832.2,773.9 L835.3,771.9 L838.4,770.1 L841.7,768.4 L845.1,766.9 L848.5,765.7 L852,764.5 L855.5,763.6 L859.1,762.9 L862.7,762.3 L866.4,761.9 L870,761.7 L873.7,761.8 L877.4,762 L881,762.3 L884.6,762.9 L888.2,763.7 L891.7,764.6 L895.2,765.8 L898.6,767.1 L901.9,768.6 L905.2,770.3 L908.4,772.1 L911.4,774.1 L914.4,776.2 L917.2,778.5 L919.9,781 L922.5,783.6 L924.9,786.3 L927.2,789.1 L929.3,792.1 L931.3,795.1 L933.1,798.3 L934.8,801.5 L936.2,804.9 L937.5,808.3 L938.7,811.7 L939.6,815.2 L940.3,818.8 L940.9,822.4 L941.2,826 L941.4,829.7 L941.4,833.3 L941.2,837 L940.8,840.6 L940.2,844.2 L939.4,847.7 L938.4,851.2 L937.3,854.7 L936,858.1 L934.5,861.4 L932.8,864.7 L930.9,867.8 L928.9,870.9 L926.7,873.8 L924.4,876.6 L922,879.3 L919.4,881.9 L916.6,884.3 L913.8,886.6 L910.8,888.8 L907.7,890.7 L904.5,892.5 L901.3,894.2 L897.9,895.7 L894.5,897 L891,898.1Z" fill="#4f4f4f" filter="url(#soft2)"/>
<path d="M720.7,829.4 L619.2,828.2 M733,772.2 L639.8,732.4 M766.4,723.9 L695.8,651.6 M815.9,692 L778.4,598.2 M873.7,681.3 L875.3,580.3 M931.3,693.4 L971.5,600.6 M979.7,726.5 L1052.6,656 M1011.7,775.6 L1106,738.1 M1022.3,833.2 L1123.8,834.4 M1010,890.4 L1103.1,930.2 M976.5,938.7 L1047.2,1011 M927.1,970.6 L964.6,1064.4 M869.2,981.4 L867.7,1082.3 M811.7,969.2 L771.5,1062 M763.2,936.1 L690.4,1006.6 M731.3,887 L637,924.5" stroke="#3e3e3e" stroke-width="2.4" stroke-linecap="round" fill="none"/>
<path d="M794.7,830.4 L748.1,829.8 M801,801.2 L758.2,782.9 M818,776.6 L785.5,743.4 M843.2,760.4 L826,717.3 M872.6,754.9 L873.3,708.5 M901.9,761.1 L920.4,718.5 M926.6,778 L960.1,745.6 M942.9,802.9 L986.2,785.7 M948.3,832.2 L994.9,832.8 M942,861.4 L984.8,879.7 M925,886 L957.4,919.2 M899.8,902.2 L917,945.3 M870.3,907.7 L869.6,954.1 M841,901.5 L822.6,944.1 M816.4,884.7 L782.9,917 M800.1,859.7 L756.8,876.9" stroke="#3f3f3f" stroke-width="4.4" stroke-linecap="round" fill="none"/>
<path d="M791.7,827.4 L751.1,826.9 M799.4,797.4 L762.1,781.4 M813.8,776.5 L785.6,747.6 M839.4,758.7 L824.4,721.2 M869.8,751.9 L870.4,711.5 M900.5,757.2 L916.6,720.1 M926.7,773.8 L955.9,745.6 M944.6,799.1 L982.3,784.1 M951.3,829.4 L991.9,829.9 M945.9,859.9 L983.2,875.8 M925,890.2 L953.3,919.1 M898.2,906.1 L913.2,943.6 M867.4,910.6 L866.8,951 M837.2,903.1 L821.1,940.2 M812.2,884.7 L783.1,912.9 M796.2,858.1 L758.5,873.1" stroke="#606060" stroke-width="1.3" stroke-linecap="round" fill="none"/>
<path d="M805.1,830.5 L937.9,832.1" stroke="#606060" stroke-width="1.4" fill="none" transform="translate(0,-2)"/>
<path d="M805.1,830.5 L937.9,832.1" stroke="#3f3f3f" stroke-width="3" stroke-linecap="round" fill="none"/>
</g>
<ellipse cx="602.9" cy="828" rx="7.6" ry="18" fill="#4a4a4a" stroke="#3e3e3e" stroke-width="1.4"/>
<path d="M624.3,713.8 L617.3,724.1 L613.9,731.2 L610.9,740.1 L604.4,763.7 L601.3,772.4 L596.6,781.4 L586.4,796.9 L583.8,802.4 L581,810 L578.6,819.8 L577.8,829.8 L578.5,840 L580.9,849.7 L583.8,855.8 L591.8,867.7 L595.2,874.5 L600.8,888.7 L605.8,899.9 L610.9,917.1 L615.7,930.5 L619.4,939.5 L625.4,952.3 L629.8,960.9 L636.9,973.3 L644.7,985.3 L653,996.8 L665.1,1011.5 L674.9,1022 L688.6,1035.1 L699.6,1044.4 L714.9,1055.7 L727,1063.6 L743.5,1072.9 L756.4,1079.2 L765.2,1083.1 L778.6,1088.3 L792.2,1092.7 L806,1096.4 L815.4,1098.5 L829.5,1101 L843.8,1102.8 L858.1,1103.9 L872.5,1104.1 L886.8,1103.7 L901.1,1102.5 L915.2,1100.5 L924.8,1098.8 L938.8,1095.6 L952.5,1091.8 L966.1,1087.2 L979.4,1081.8 L992.5,1075.8 L1005.2,1069.2 L1013.6,1064.3 L1025.6,1056.6 L1037.2,1048.3 L1048.4,1039.3 L1055.7,1032.9 L1066,1023.1 L1075.9,1012.7 L1085.2,1001.8 L1091.1,994.2 L1099.3,982.6 L1107,970.5 L1114.1,958 L1120.4,945.2 L1126.1,932.1 L1131.1,918.7 L1135.4,905 L1137.8,895.7 L1140.9,881.8 L1143.2,867.7 L1144.8,853.5 L1145.4,843.9 L1145.8,829.7 L1145.3,815.5 L1144.2,801.2 L1142.9,791.7 L1140.5,777.6 L1137.4,763.7 L1133.5,749.9 L1128.9,736.5 L1125.4,727.5 L1119.6,714.5 L1113.2,701.7 L1106.1,689.4 L1101,681.3 L1092.8,669.6 L1084,658.3 L1074.7,647.5 L1064.7,637.2 L1054.3,627.4 L1043.3,618.2 L1032,609.7 L1024,604.2 L1011.9,596.6 L999.4,589.6 L986.6,583.4 L977.8,579.5 L964.4,574.3 L950.7,569.9 L937,566.2 L927.6,564.1 L913.4,561.6 L899.2,559.8 L884.9,558.8 L870.5,558.5 L856.2,558.9 L841.8,560.1 L827.7,562.1 L818.2,563.8 L804.2,567 L790.5,570.8 L776.9,575.5 L763.5,580.8 L750.5,586.8 L737.8,593.4 L729.4,598.3 L717.4,606 L705.7,614.3 L694.5,623.3 L687.2,629.7 L676.9,639.5 L667.1,649.9 L657.8,660.8 L651.9,668.4 L643.6,680 L636,692.1 L628.9,704.6 L624.3,713.8Z" fill="none" stroke="#3a3a3a" stroke-width="1.3"/>
<g transform="translate(646.3,878.6) rotate(-8.38) scale(1.024)" fill="#d6d6d6" stroke="#d6d6d6" stroke-linecap="round"><text x="0" y="0" font-family="'Liberation Serif', serif" font-size="20" stroke-width="0.5" textLength="69.7" lengthAdjust="spacingAndGlyphs">A<tspan font-size="15">RCHER</tspan></text><path d="M-4.8,-15.4 L-5.0,4.6" stroke-width="1.4" fill="none"/><path d="M-9.1,-9.6 Q-23.9,-12.5 -31.5,5.0" stroke-width="1.7" fill="none"/><path d="M-23.5,-17.8 C-12.8,-15.1 -9.1,-3.6 -16.7,6.0" stroke-width="1.2" fill="none"/><circle cx="-28.7" cy="-10.3" r="2.6" stroke-width="1.1" fill="none"/></g>
<clipPath id="clip3"><path d="M955.6,424.5 L953.9,429.2 L948.1,437.3 L946.3,440.5 L944.2,445.7 L942.6,451.1 L941.3,458.1 L940.7,465.2 L940.9,472.3 L942.2,480.7 L944,487 L946.4,492.2 L948.4,495.1 L955.5,502.8 L957.5,506 L963.4,525.8 L970,542.6 L974.6,552.4 L979.6,561.8 L989.2,577.1 L1000.1,591.6 L1007.2,599.8 L1014.7,607.6 L1028.1,619.8 L1036.7,626.6 L1045.5,632.9 L1054.6,638.7 L1064,644 L1080.4,652 L1090.4,655.9 L1100.6,659.5 L1118.1,664.2 L1128.6,666.2 L1139.3,667.8 L1157.4,669.1 L1168,669.1 L1178.7,668.6 L1196.6,666.5 L1207,664.5 L1217.4,662 L1234.4,656.5 L1244.2,652.6 L1253.8,648.2 L1269.4,639.6 L1278.2,633.9 L1286.8,627.6 L1300.4,616.2 L1307.8,608.9 L1315,601.1 L1321.7,593 L1328,584.5 L1337.5,569.5 L1342.5,560.2 L1347,550.7 L1353.3,534.2 L1356.4,524 L1359,513.9 L1362,496.3 L1363.1,485.7 L1363.6,475.2 L1363.2,457.3 L1362.2,446.6 L1360.6,436.1 L1358.5,425.5 L1355.8,415.1 L1352.6,404.9 L1348.9,394.9 L1341.5,378.4 L1336.4,368.8 L1330.8,359.6 L1324.7,350.6 L1318.2,342 L1311.3,333.6 L1304,325.8 L1290.7,313.3 L1282.3,306.4 L1273.5,299.9 L1264.6,294 L1255.2,288.5 L1245.6,283.4 L1235.8,278.9 L1225.7,274.8 L1215.5,271.3 L1197.9,266.6 L1187.4,264.5 L1176.7,263 L1158.7,261.7 L1148.1,261.6 L1137.3,262.2 L1126.7,263.2 L1116.1,264.8 L1105.6,267 L1095.3,269.7 L1078.3,275.5 L1068.6,279.6 L1059.1,284.2 L1049.8,289.3 L1040.8,294.9 L1032.1,301 L1023.8,307.5 L1010.6,319.5 L1003.4,327 L996.5,335 L990.1,343.4 L984.1,352.1 L975.2,367.4 L970.5,376.9 L966.3,386.7 L962.7,396.6 L959.7,406.6 L955.6,424.5Z"/></clipPath>
<path d="M955.6,424.5 L953.9,429.2 L948.1,437.3 L946.3,440.5 L944.2,445.7 L942.6,451.1 L941.3,458.1 L940.7,465.2 L940.9,472.3 L942.2,480.7 L944,487 L946.4,492.2 L948.4,495.1 L955.5,502.8 L957.5,506 L963.4,525.8 L970,542.6 L974.6,552.4 L979.6,561.8 L989.2,577.1 L1000.1,591.6 L1007.2,599.8 L1014.7,607.6 L1028.1,619.8 L1036.7,626.6 L1045.5,632.9 L1054.6,638.7 L1064,644 L1080.4,652 L1090.4,655.9 L1100.6,659.5 L1118.1,664.2 L1128.6,666.2 L1139.3,667.8 L1157.4,669.1 L1168,669.1 L1178.7,668.6 L1196.6,666.5 L1207,664.5 L1217.4,662 L1234.4,656.5 L1244.2,652.6 L1253.8,648.2 L1269.4,639.6 L1278.2,633.9 L1286.8,627.6 L1300.4,616.2 L1307.8,608.9 L1315,601.1 L1321.7,593 L1328,584.5 L1337.5,569.5 L1342.5,560.2 L1347,550.7 L1353.3,534.2 L1356.4,524 L1359,513.9 L1362,496.3 L1363.1,485.7 L1363.6,475.2 L1363.2,457.3 L1362.2,446.6 L1360.6,436.1 L1358.5,425.5 L1355.8,415.1 L1352.6,404.9 L1348.9,394.9 L1341.5,378.4 L1336.4,368.8 L1330.8,359.6 L1324.7,350.6 L1318.2,342 L1311.3,333.6 L1304,325.8 L1290.7,313.3 L1282.3,306.4 L1273.5,299.9 L1264.6,294 L1255.2,288.5 L1245.6,283.4 L1235.8,278.9 L1225.7,274.8 L1215.5,271.3 L1197.9,266.6 L1187.4,264.5 L1176.7,263 L1158.7,261.7 L1148.1,261.6 L1137.3,262.2 L1126.7,263.2 L1116.1,264.8 L1105.6,267 L1095.3,269.7 L1078.3,275.5 L1068.6,279.6 L1059.1,284.2 L1049.8,289.3 L1040.8,294.9 L1032.1,301 L1023.8,307.5 L1010.6,319.5 L1003.4,327 L996.5,335 L990.1,343.4 L984.1,352.1 L975.2,367.4 L970.5,376.9 L966.3,386.7 L962.7,396.6 L959.7,406.6 L955.6,424.5Z" fill="#505050"/>
<g clip-path="url(#clip3)">
<path d="M1233.6,520.2 L1230.7,524 L1227.6,527.6 L1224.4,531.1 L1220.9,534.3 L1217.2,537.4 L1213.4,540.3 L1209.5,542.9 L1205.4,545.4 L1201.2,547.6 L1196.8,549.6 L1192.4,551.4 L1187.8,553 L1183.2,554.3 L1178.5,555.3 L1173.8,556.1 L1169,556.7 L1164.2,557 L1159.3,557.1 L1154.5,556.9 L1149.6,556.5 L1144.8,555.8 L1140.1,554.8 L1135.3,553.7 L1130.7,552.2 L1126.1,550.6 L1121.6,548.7 L1117.2,546.5 L1112.9,544.2 L1108.7,541.6 L1104.7,538.9 L1100.8,535.9 L1097.1,532.7 L1093.5,529.4 L1090.1,525.9 L1087,522.2 L1084,518.3 L1081.2,514.3 L1078.6,510.2 L1076.2,506 L1074,501.6 L1072.1,497.1 L1070.5,492.6 L1069,488 L1067.8,483.3 L1066.9,478.6 L1066.2,473.8 L1065.7,469 L1065.5,464.2 L1065.6,459.4 L1065.9,454.6 L1066.5,449.9 L1067.3,445.2 L1068.3,440.5 L1069.7,435.9 L1071.2,431.4 L1073,427 L1075,422.7 L1077.3,418.5 L1079.8,414.4 L1082.4,410.5 L1085.3,406.8 L1088.4,403.1 L1091.7,399.7 L1095.2,396.4 L1098.8,393.4 L1102.6,390.5 L1106.6,387.8 L1110.7,385.4 L1114.9,383.1 L1119.2,381.1 L1123.7,379.4 L1128.2,377.8 L1132.8,376.5 L1137.5,375.4 L1142.3,374.6 L1147.1,374.1 L1151.9,373.7 L1156.7,373.7 L1161.6,373.9 L1166.4,374.3 L1171.2,375 L1176,375.9 L1180.7,377.1 L1185.4,378.5 L1190,380.2 L1194.5,382.1 L1198.9,384.2 L1203.2,386.6 L1207.3,389.1 L1211.4,391.9 L1215.2,394.9 L1219,398 L1222.5,401.4 L1225.9,404.9 L1229.1,408.6 L1232.1,412.4 L1234.9,416.4 L1237.5,420.6 L1239.9,424.8 L1242,429.2 L1243.9,433.6 L1245.6,438.2 L1247.1,442.8 L1248.2,447.5 L1249.2,452.2 L1249.9,457 L1250.3,461.8 L1250.5,466.6 L1250.5,471.4 L1250.2,476.1 L1249.6,480.9 L1248.8,485.6 L1247.7,490.3 L1246.4,494.8 L1244.9,499.4 L1243.1,503.8 L1241,508.1 L1238.8,512.3 L1236.3,516.3Z" fill="#575757" filter="url(#soft)"/>
<path d="M1203.4,498.3 L1201.7,500.6 L1199.8,502.7 L1197.8,504.8 L1195.7,506.7 L1193.6,508.6 L1191.3,510.3 L1188.9,511.9 L1186.5,513.4 L1183.9,514.7 L1181.3,515.9 L1178.6,517 L1175.9,517.9 L1173.1,518.7 L1170.3,519.3 L1167.5,519.8 L1164.6,520.2 L1161.7,520.4 L1158.8,520.4 L1155.9,520.3 L1153,520 L1150.1,519.6 L1147.2,519.1 L1144.4,518.3 L1141.6,517.5 L1138.9,516.5 L1136.2,515.4 L1133.5,514.1 L1130.9,512.7 L1128.5,511.1 L1126,509.5 L1123.7,507.7 L1121.5,505.8 L1119.3,503.8 L1117.3,501.7 L1115.4,499.5 L1113.6,497.1 L1111.9,494.8 L1110.4,492.3 L1108.9,489.7 L1107.6,487.1 L1106.5,484.4 L1105.5,481.7 L1104.6,478.9 L1103.9,476.1 L1103.3,473.3 L1102.9,470.4 L1102.6,467.6 L1102.5,464.7 L1102.6,461.8 L1102.8,458.9 L1103.1,456.1 L1103.6,453.2 L1104.2,450.5 L1105,447.7 L1105.9,445 L1107,442.4 L1108.2,439.8 L1109.6,437.3 L1111.1,434.8 L1112.7,432.5 L1114.4,430.2 L1116.3,428 L1118.2,426 L1120.3,424 L1122.5,422.2 L1124.8,420.5 L1127.2,418.9 L1129.6,417.4 L1132.1,416 L1134.8,414.8 L1137.4,413.8 L1140.1,412.8 L1142.9,412.1 L1145.7,411.4 L1148.6,410.9 L1151.5,410.6 L1154.4,410.4 L1157.3,410.4 L1160.2,410.5 L1163.1,410.7 L1166,411.2 L1168.8,411.7 L1171.7,412.4 L1174.4,413.3 L1177.2,414.3 L1179.9,415.4 L1182.5,416.7 L1185.1,418.1 L1187.6,419.6 L1190,421.3 L1192.4,423.1 L1194.6,425 L1196.7,427 L1198.8,429.1 L1200.7,431.3 L1202.5,433.6 L1204.2,436 L1205.7,438.5 L1207.1,441 L1208.4,443.7 L1209.6,446.3 L1210.6,449.1 L1211.4,451.8 L1212.2,454.6 L1212.7,457.5 L1213.1,460.3 L1213.4,463.2 L1213.5,466.1 L1213.5,469 L1213.3,471.8 L1213,474.7 L1212.5,477.5 L1211.8,480.3 L1211.1,483.1 L1210.1,485.8 L1209,488.4 L1207.8,491 L1206.5,493.5 L1205,495.9Z" fill="#484848" filter="url(#soft2)"/>
<path d="M1195,492.2 L1193.6,494 L1192.1,495.8 L1190.5,497.5 L1188.8,499.1 L1187,500.6 L1185.1,502 L1183.2,503.3 L1181.2,504.5 L1179.1,505.6 L1177,506.6 L1174.8,507.4 L1172.6,508.2 L1170.3,508.8 L1168.1,509.4 L1165.7,509.8 L1163.4,510 L1161,510.2 L1158.7,510.2 L1156.3,510.1 L1153.9,509.9 L1151.6,509.6 L1149.2,509.1 L1146.9,508.5 L1144.7,507.8 L1142.4,507 L1140.2,506.1 L1138.1,505.1 L1136,503.9 L1133.9,502.7 L1132,501.3 L1130.1,499.9 L1128.2,498.3 L1126.5,496.7 L1124.8,494.9 L1123.3,493.1 L1121.8,491.3 L1120.4,489.3 L1119.2,487.3 L1118,485.2 L1117,483.1 L1116,480.9 L1115.2,478.7 L1114.5,476.4 L1113.9,474.1 L1113.5,471.8 L1113.1,469.5 L1112.9,467.2 L1112.8,464.8 L1112.8,462.5 L1113,460.1 L1113.3,457.8 L1113.7,455.5 L1114.2,453.2 L1114.8,451 L1115.6,448.8 L1116.5,446.6 L1117.5,444.5 L1118.6,442.5 L1119.8,440.5 L1121.1,438.6 L1122.5,436.7 L1124,435 L1125.6,433.3 L1127.3,431.7 L1129.1,430.2 L1130.9,428.8 L1132.9,427.5 L1134.9,426.3 L1136.9,425.2 L1139.1,424.2 L1141.2,423.3 L1143.5,422.6 L1145.7,421.9 L1148,421.4 L1150.3,421 L1152.7,420.7 L1155,420.6 L1157.4,420.6 L1159.8,420.6 L1162.1,420.9 L1164.5,421.2 L1166.8,421.7 L1169.1,422.2 L1171.4,422.9 L1173.7,423.7 L1175.9,424.7 L1178,425.7 L1180.1,426.8 L1182.1,428.1 L1184.1,429.5 L1186,430.9 L1187.8,432.5 L1189.6,434.1 L1191.2,435.8 L1192.8,437.6 L1194.2,439.5 L1195.6,441.5 L1196.9,443.5 L1198,445.5 L1199.1,447.7 L1200,449.9 L1200.8,452.1 L1201.6,454.3 L1202.1,456.6 L1202.6,458.9 L1202.9,461.3 L1203.2,463.6 L1203.3,466 L1203.2,468.3 L1203.1,470.6 L1202.8,473 L1202.4,475.3 L1201.9,477.5 L1201.2,479.8 L1200.5,482 L1199.6,484.1 L1198.6,486.3 L1197.5,488.3 L1196.3,490.3Z" fill="#4f4f4f" filter="url(#soft2)"/>
<path d="M1045.1,467 L969.1,468.2 M1051.9,424 L980.4,396.2 M1074.8,387.3 L1018.8,334.8 M1110.5,362.5 L1078.4,293.2 M1153.3,353.3 L1150.2,277.9 M1196.9,361.2 L1223.1,291.1 M1234.6,385 L1286.1,330.9 M1260.6,421 L1329.6,391.1 M1271,463.7 L1347,462.6 M1264.2,506.7 L1335.6,534.6 M1241.2,543.5 L1297.2,596 M1205.6,568.3 L1237.6,637.5 M1162.7,577.5 L1165.9,652.9 M1119.1,569.6 L1093,639.6 M1081.5,545.8 L1030,599.9 M1055.5,509.8 L986.5,539.7" stroke="#3e3e3e" stroke-width="2.4" stroke-linecap="round" fill="none"/>
<path d="M1107.7,466.1 L1071.8,466.6 M1110.7,447 L1077,433.8 M1121,430.6 L1094.5,405.8 M1136.8,419.5 L1121.7,386.8 M1155.9,415.5 L1154.4,379.8 M1175.4,419 L1187.7,385.8 M1192.1,429.6 L1216.5,404 M1203.7,445.6 L1236.4,431.5 M1208.4,464.6 L1244.3,464.1 M1205.3,483.8 L1239.1,497 M1195.1,500.2 L1221.6,525 M1179.2,511.2 L1194.4,544 M1160.1,515.3 L1161.6,551 M1140.7,511.8 L1128.3,544.9 M1123.9,501.2 L1099.6,526.8 M1112.3,485.2 L1079.7,499.3" stroke="#3f3f3f" stroke-width="3.8" stroke-linecap="round" fill="none"/>
<path d="M1104.7,463.3 L1074.7,463.7 M1109,443.2 L1080.8,432.2 M1120.8,426.4 L1098.7,405.7 M1132.9,418 L1120.3,390.7 M1152.9,412.6 L1151.7,382.9 M1173.7,415.2 L1184,387.6 M1192.1,425.4 L1212.3,404.1 M1205.3,441.7 L1232.5,430 M1211.3,461.7 L1241.3,461.3 M1209.2,482.2 L1237.4,493.2 M1199.3,500.1 L1221.4,520.8 M1177.9,515.2 L1190.5,542.5 M1157.4,518.4 L1158.6,548.1 M1136.9,513.6 L1126.7,541.1 M1119.8,501.4 L1099.5,522.6 M1108.4,483.7 L1081.3,495.5" stroke="#606060" stroke-width="1.3" stroke-linecap="round" fill="none"/>
<path d="M1115.1,466 L1201,464.8" stroke="#606060" stroke-width="1.4" fill="none" transform="translate(0,-2)"/>
<path d="M1115.1,466 L1201,464.8" stroke="#3f3f3f" stroke-width="3" stroke-linecap="round" fill="none"/>
</g>
<ellipse cx="959.2" cy="468.3" rx="5.8" ry="13" fill="#4a4a4a" stroke="#3e3e3e" stroke-width="1.4"/>
<path d="M955.6,424.5 L953.9,429.2 L948.1,437.3 L946.3,440.5 L944.2,445.7 L942.6,451.1 L941.3,458.1 L940.7,465.2 L940.9,472.3 L942.2,480.7 L944,487 L946.4,492.2 L948.4,495.1 L955.5,502.8 L957.5,506 L963.4,525.8 L970,542.6 L974.6,552.4 L979.6,561.8 L989.2,577.1 L1000.1,591.6 L1007.2,599.8 L1014.7,607.6 L1028.1,619.8 L1036.7,626.6 L1045.5,632.9 L1054.6,638.7 L1064,644 L1080.4,652 L1090.4,655.9 L1100.6,659.5 L1118.1,664.2 L1128.6,666.2 L1139.3,667.8 L1157.4,669.1 L1168,669.1 L1178.7,668.6 L1196.6,666.5 L1207,664.5 L1217.4,662 L1234.4,656.5 L1244.2,652.6 L1253.8,648.2 L1269.4,639.6 L1278.2,633.9 L1286.8,627.6 L1300.4,616.2 L1307.8,608.9 L1315,601.1 L1321.7,593 L1328,584.5 L1337.5,569.5 L1342.5,560.2 L1347,550.7 L1353.3,534.2 L1356.4,524 L1359,513.9 L1362,496.3 L1363.1,485.7 L1363.6,475.2 L1363.2,457.3 L1362.2,446.6 L1360.6,436.1 L1358.5,425.5 L1355.8,415.1 L1352.6,404.9 L1348.9,394.9 L1341.5,378.4 L1336.4,368.8 L1330.8,359.6 L1324.7,350.6 L1318.2,342 L1311.3,333.6 L1304,325.8 L1290.7,313.3 L1282.3,306.4 L1273.5,299.9 L1264.6,294 L1255.2,288.5 L1245.6,283.4 L1235.8,278.9 L1225.7,274.8 L1215.5,271.3 L1197.9,266.6 L1187.4,264.5 L1176.7,263 L1158.7,261.7 L1148.1,261.6 L1137.3,262.2 L1126.7,263.2 L1116.1,264.8 L1105.6,267 L1095.3,269.7 L1078.3,275.5 L1068.6,279.6 L1059.1,284.2 L1049.8,289.3 L1040.8,294.9 L1032.1,301 L1023.8,307.5 L1010.6,319.5 L1003.4,327 L996.5,335 L990.1,343.4 L984.1,352.1 L975.2,367.4 L970.5,376.9 L966.3,386.7 L962.7,396.6 L959.7,406.6 L955.6,424.5Z" fill="none" stroke="#3a3a3a" stroke-width="1.3"/>
<g transform="translate(996.9,501.0) rotate(-10.65) scale(0.613)" fill="#d6d6d6" stroke="#d6d6d6" stroke-linecap="round"><text x="0" y="0" font-family="'Liberation Serif', serif" font-size="20" stroke-width="0.5" textLength="69.7" lengthAdjust="spacingAndGlyphs">A<tspan font-size="15">RCHER</tspan></text><path d="M-4.8,-15.4 L-5.0,4.6" stroke-width="1.4" fill="none"/><path d="M-9.1,-9.6 Q-23.9,-12.5 -31.5,5.0" stroke-width="1.7" fill="none"/><path d="M-23.5,-17.8 C-12.8,-15.1 -9.1,-3.6 -16.7,6.0" stroke-width="1.2" fill="none"/><circle cx="-28.7" cy="-10.3" r="2.6" stroke-width="1.1" fill="none"/></g>
<clipPath id="clip4"><path d="M1074.2,746.2 L1069.3,763.8 L1061.6,779.5 L1058.6,788.5 L1057.4,794.6 L1056.9,799.8 L1057,806.5 L1057.6,811.6 L1058.7,816 L1060.5,819.9 L1074.4,842 L1078.4,853 L1081.7,860.9 L1086.7,871 L1091,878.6 L1100.4,892.7 L1109.5,903.9 L1119.4,914.2 L1132.2,925.3 L1143.9,933.7 L1158.5,942.3 L1171.4,948.4 L1187.3,954.1 L1201,957.6 L1217.5,960.2 L1231.5,961.1 L1248,960.6 L1261.8,958.7 L1277.8,955 L1290.8,950.6 L1305.6,943.8 L1317.5,936.9 L1330.6,927.4 L1340.7,918.4 L1350.1,908.4 L1359.8,895.5 L1367,883.7 L1374.1,869.1 L1378.8,856.1 L1382.9,840.1 L1385.3,823.6 L1385.9,807 L1384.8,790.4 L1382.6,776.4 L1378.3,760 L1372.4,744.1 L1364.9,728.9 L1357.4,716.6 L1347.2,702.9 L1335.7,690.3 L1322.9,678.9 L1309.1,668.8 L1296.8,661.4 L1281.6,654.1 L1265.7,648.4 L1249.3,644.3 L1232.7,641.9 L1216,641.3 L1202,642.1 L1185.8,644.7 L1169.9,649 L1154.6,655 L1142.4,661.2 L1128.8,670 L1116.2,680.3 L1106.5,690 L1096.1,702.6 L1087.2,716.3 L1079.9,730.8 L1074.2,746.2Z"/></clipPath>
<path d="M1074.2,746.2 L1069.3,763.8 L1061.6,779.5 L1058.6,788.5 L1057.4,794.6 L1056.9,799.8 L1057,806.5 L1057.6,811.6 L1058.7,816 L1060.5,819.9 L1074.4,842 L1078.4,853 L1081.7,860.9 L1086.7,871 L1091,878.6 L1100.4,892.7 L1109.5,903.9 L1119.4,914.2 L1132.2,925.3 L1143.9,933.7 L1158.5,942.3 L1171.4,948.4 L1187.3,954.1 L1201,957.6 L1217.5,960.2 L1231.5,961.1 L1248,960.6 L1261.8,958.7 L1277.8,955 L1290.8,950.6 L1305.6,943.8 L1317.5,936.9 L1330.6,927.4 L1340.7,918.4 L1350.1,908.4 L1359.8,895.5 L1367,883.7 L1374.1,869.1 L1378.8,856.1 L1382.9,840.1 L1385.3,823.6 L1385.9,807 L1384.8,790.4 L1382.6,776.4 L1378.3,760 L1372.4,744.1 L1364.9,728.9 L1357.4,716.6 L1347.2,702.9 L1335.7,690.3 L1322.9,678.9 L1309.1,668.8 L1296.8,661.4 L1281.6,654.1 L1265.7,648.4 L1249.3,644.3 L1232.7,641.9 L1216,641.3 L1202,642.1 L1185.8,644.7 L1169.9,649 L1154.6,655 L1142.4,661.2 L1128.8,670 L1116.2,680.3 L1106.5,690 L1096.1,702.6 L1087.2,716.3 L1079.9,730.8 L1074.2,746.2Z" fill="#505050"/>
<g clip-path="url(#clip4)">
<path d="M1279.7,751 L1282.3,754 L1284.9,757.1 L1287.3,760.4 L1289.5,763.7 L1291.5,767.2 L1293.4,770.7 L1295,774.4 L1296.5,778.1 L1297.8,781.9 L1298.9,785.7 L1299.8,789.6 L1300.5,793.5 L1301,797.4 L1301.3,801.3 L1301.4,805.3 L1301.3,809.2 L1301,813.1 L1300.4,817 L1299.7,820.8 L1298.8,824.5 L1297.7,828.3 L1296.3,831.9 L1294.8,835.4 L1293.1,838.9 L1291.2,842.2 L1289.2,845.5 L1286.9,848.6 L1284.5,851.6 L1282,854.4 L1279.3,857.1 L1276.4,859.7 L1273.4,862.1 L1270.3,864.3 L1267.1,866.4 L1263.7,868.2 L1260.2,869.9 L1256.7,871.4 L1253.1,872.7 L1249.4,873.8 L1245.6,874.8 L1241.8,875.5 L1237.9,876 L1234,876.3 L1230.1,876.4 L1226.2,876.3 L1222.3,876 L1218.4,875.4 L1214.5,874.7 L1210.6,873.8 L1206.8,872.7 L1203,871.3 L1199.3,869.8 L1195.7,868.1 L1192.2,866.2 L1188.8,864.2 L1185.4,862 L1182.2,859.6 L1179.1,857 L1176.1,854.3 L1173.3,851.4 L1170.6,848.4 L1168,845.3 L1165.7,842.1 L1163.5,838.7 L1161.4,835.2 L1159.6,831.7 L1157.9,828 L1156.4,824.3 L1155.1,820.6 L1154,816.7 L1153.1,812.9 L1152.4,809 L1151.9,805 L1151.6,801.1 L1151.5,797.2 L1151.6,793.2 L1152,789.3 L1152.5,785.5 L1153.2,781.6 L1154.1,777.9 L1155.3,774.2 L1156.6,770.5 L1158.1,767 L1159.8,763.5 L1161.7,760.2 L1163.8,756.9 L1166,753.8 L1168.4,750.8 L1171,748 L1173.7,745.3 L1176.5,742.7 L1179.5,740.3 L1182.6,738.1 L1185.9,736.1 L1189.2,734.2 L1192.7,732.5 L1196.2,731 L1199.9,729.7 L1203.6,728.6 L1207.3,727.7 L1211.2,727 L1215,726.4 L1218.9,726.1 L1222.8,726 L1226.7,726.2 L1230.7,726.5 L1234.6,727 L1238.5,727.7 L1242.3,728.6 L1246.1,729.8 L1249.9,731.1 L1253.6,732.6 L1257.2,734.3 L1260.7,736.2 L1264.2,738.2 L1267.5,740.5 L1270.7,742.9 L1273.8,745.4 L1276.8,748.1Z" fill="#575757" filter="url(#soft)"/>
<path d="M1257,772.4 L1258.6,774.1 L1260,775.9 L1261.4,777.7 L1262.7,779.7 L1263.8,781.7 L1264.9,783.7 L1265.9,785.8 L1266.7,787.9 L1267.5,790.1 L1268.1,792.3 L1268.6,794.5 L1269,796.8 L1269.3,799 L1269.5,801.3 L1269.5,803.5 L1269.5,805.8 L1269.3,808 L1269,810.3 L1268.5,812.5 L1268,814.6 L1267.4,816.7 L1266.6,818.8 L1265.7,820.9 L1264.8,822.9 L1263.7,824.8 L1262.5,826.6 L1261.2,828.4 L1259.8,830.2 L1258.4,831.8 L1256.8,833.3 L1255.2,834.8 L1253.4,836.2 L1251.6,837.5 L1249.8,838.6 L1247.9,839.7 L1245.9,840.7 L1243.8,841.5 L1241.7,842.3 L1239.6,842.9 L1237.5,843.5 L1235.3,843.9 L1233,844.2 L1230.8,844.3 L1228.6,844.4 L1226.3,844.3 L1224.1,844.1 L1221.8,843.8 L1219.6,843.4 L1217.4,842.9 L1215.2,842.3 L1213,841.5 L1210.9,840.6 L1208.8,839.7 L1206.8,838.6 L1204.8,837.4 L1202.9,836.1 L1201,834.7 L1199.2,833.3 L1197.5,831.7 L1195.9,830.1 L1194.4,828.3 L1192.9,826.5 L1191.5,824.7 L1190.3,822.7 L1189.1,820.8 L1188,818.7 L1187.1,816.6 L1186.2,814.5 L1185.5,812.3 L1184.8,810.1 L1184.3,807.9 L1183.9,805.7 L1183.6,803.4 L1183.5,801.1 L1183.4,798.9 L1183.5,796.6 L1183.7,794.4 L1184,792.2 L1184.4,790 L1184.9,787.8 L1185.6,785.7 L1186.3,783.6 L1187.2,781.5 L1188.2,779.6 L1189.3,777.6 L1190.4,775.8 L1191.7,774 L1193.1,772.3 L1194.6,770.6 L1196.1,769.1 L1197.8,767.6 L1199.5,766.2 L1201.3,765 L1203.1,763.8 L1205.1,762.7 L1207.1,761.7 L1209.1,760.9 L1211.2,760.1 L1213.3,759.5 L1215.5,759 L1217.7,758.6 L1219.9,758.3 L1222.1,758.1 L1224.4,758 L1226.6,758.1 L1228.9,758.3 L1231.1,758.6 L1233.4,759 L1235.6,759.5 L1237.8,760.2 L1239.9,760.9 L1242,761.8 L1244.1,762.8 L1246.2,763.8 L1248.1,765 L1250,766.3 L1251.9,767.7 L1253.7,769.2 L1255.4,770.7Z" fill="#484848" filter="url(#soft2)"/>
<path d="M1251.4,777.7 L1252.6,779.1 L1253.8,780.6 L1254.9,782.1 L1256,783.7 L1256.9,785.3 L1257.8,786.9 L1258.6,788.7 L1259.3,790.4 L1259.9,792.2 L1260.4,793.9 L1260.8,795.8 L1261.1,797.6 L1261.4,799.4 L1261.5,801.3 L1261.5,803.1 L1261.5,804.9 L1261.3,806.8 L1261.1,808.6 L1260.8,810.4 L1260.3,812.1 L1259.8,813.9 L1259.2,815.6 L1258.5,817.2 L1257.7,818.8 L1256.8,820.4 L1255.8,821.9 L1254.8,823.4 L1253.6,824.8 L1252.4,826.1 L1251.2,827.4 L1249.8,828.6 L1248.4,829.7 L1247,830.7 L1245.5,831.7 L1243.9,832.6 L1242.3,833.4 L1240.6,834.1 L1238.9,834.7 L1237.2,835.2 L1235.4,835.6 L1233.6,836 L1231.8,836.2 L1230,836.3 L1228.2,836.4 L1226.3,836.3 L1224.5,836.2 L1222.7,836 L1220.8,835.6 L1219,835.2 L1217.3,834.7 L1215.5,834 L1213.8,833.3 L1212.1,832.5 L1210.4,831.7 L1208.8,830.7 L1207.2,829.6 L1205.7,828.5 L1204.3,827.3 L1202.9,826.1 L1201.6,824.7 L1200.3,823.3 L1199.1,821.8 L1198,820.3 L1197,818.8 L1196,817.1 L1195.1,815.5 L1194.4,813.8 L1193.7,812 L1193.1,810.3 L1192.5,808.5 L1192.1,806.7 L1191.8,804.8 L1191.6,803 L1191.4,801.2 L1191.4,799.3 L1191.4,797.5 L1191.6,795.7 L1191.8,793.8 L1192.2,792.1 L1192.6,790.3 L1193.1,788.6 L1193.8,786.9 L1194.5,785.2 L1195.3,783.6 L1196.1,782 L1197.1,780.5 L1198.2,779 L1199.3,777.6 L1200.5,776.3 L1201.7,775 L1203.1,773.8 L1204.5,772.7 L1205.9,771.7 L1207.5,770.7 L1209,769.8 L1210.7,769 L1212.3,768.3 L1214,767.7 L1215.7,767.2 L1217.5,766.8 L1219.3,766.5 L1221.1,766.2 L1222.9,766.1 L1224.8,766 L1226.6,766.1 L1228.4,766.2 L1230.3,766.5 L1232.1,766.8 L1233.9,767.2 L1235.7,767.8 L1237.4,768.4 L1239.2,769.1 L1240.9,769.9 L1242.5,770.8 L1244.1,771.7 L1245.7,772.8 L1247.2,773.9 L1248.6,775.1 L1250,776.4Z" fill="#4f4f4f" filter="url(#soft2)"/>
<path d="M1138.9,801.8 L1080,802.2 M1143.6,768.1 L1087.9,745.9 M1161,739.5 L1117,697.9 M1188.3,720.2 L1162.7,665.7 M1221.4,713.3 L1218.1,654.1 M1255.3,719.7 L1274.8,664.9 M1284.8,738.6 L1324.1,696.4 M1305.4,767 L1358.6,744 M1314,800.6 L1372.9,800.2 M1309.3,834.3 L1365,856.6 M1291.9,863 L1336,904.5 M1264.6,882.2 L1290.3,936.7 M1231.5,889.2 L1234.9,948.3 M1197.6,882.7 L1178.2,937.5 M1168.1,863.8 L1128.8,906 M1147.5,835.4 L1094.4,858.5" stroke="#3e3e3e" stroke-width="2.4" stroke-linecap="round" fill="none"/>
<path d="M1188.3,801.5 L1158,801.7 M1190.3,786.8 L1161.7,775.3 M1197.9,774.3 L1175.3,752.9 M1209.8,765.9 L1196.6,737.9 M1224.3,762.8 L1222.5,732.4 M1239.1,765.6 L1249,737.5 M1251.9,773.9 L1272.1,752.2 M1260.9,786.3 L1288.2,774.5 M1264.7,800.9 L1294.9,800.7 M1262.6,815.7 L1291.2,827.1 M1255,828.2 L1277.6,849.5 M1243.1,836.6 L1256.3,864.6 M1228.7,839.6 L1230.4,870 M1213.9,836.8 L1203.9,864.9 M1201,828.5 L1180.8,850.2 M1192,816.1 L1164.7,828" stroke="#3f3f3f" stroke-width="3.2" stroke-linecap="round" fill="none"/>
<path d="M1185.2,798.6 L1161,798.8 M1188.6,783 L1165.6,773.8 M1197.7,770.1 L1179.5,752.9 M1205.9,764.4 L1195.3,741.8 M1221.2,760 L1219.8,735.6 M1237.3,761.9 L1245.3,739.4 M1251.9,769.7 L1267.9,752.5 M1262.5,782.4 L1284.3,773 M1267.7,798 L1291.9,797.9 M1266.5,814.1 L1289.5,823.3 M1259.2,828.1 L1277.5,845.3 M1241.8,840.5 L1252.4,863.1 M1225.9,842.8 L1227.3,867.1 M1210.1,838.6 L1202.2,861.1 M1196.8,828.8 L1180.8,846 M1188.1,814.7 L1166.3,824.1" stroke="#606060" stroke-width="1.3" stroke-linecap="round" fill="none"/>
<path d="M1193.2,801.4 L1259.7,801" stroke="#606060" stroke-width="1.4" fill="none" transform="translate(0,-2)"/>
<path d="M1193.2,801.4 L1259.7,801" stroke="#3f3f3f" stroke-width="3" stroke-linecap="round" fill="none"/>
</g>
<ellipse cx="1071.6" cy="802.3" rx="4.2" ry="10" fill="#4a4a4a" stroke="#3e3e3e" stroke-width="1.4"/>
<path d="M1074.2,746.2 L1069.3,763.8 L1061.6,779.5 L1058.6,788.5 L1057.4,794.6 L1056.9,799.8 L1057,806.5 L1057.6,811.6 L1058.7,816 L1060.5,819.9 L1074.4,842 L1078.4,853 L1081.7,860.9 L1086.7,871 L1091,878.6 L1100.4,892.7 L1109.5,903.9 L1119.4,914.2 L1132.2,925.3 L1143.9,933.7 L1158.5,942.3 L1171.4,948.4 L1187.3,954.1 L1201,957.6 L1217.5,960.2 L1231.5,961.1 L1248,960.6 L1261.8,958.7 L1277.8,955 L1290.8,950.6 L1305.6,943.8 L1317.5,936.9 L1330.6,927.4 L1340.7,918.4 L1350.1,908.4 L1359.8,895.5 L1367,883.7 L1374.1,869.1 L1378.8,856.1 L1382.9,840.1 L1385.3,823.6 L1385.9,807 L1384.8,790.4 L1382.6,776.4 L1378.3,760 L1372.4,744.1 L1364.9,728.9 L1357.4,716.6 L1347.2,702.9 L1335.7,690.3 L1322.9,678.9 L1309.1,668.8 L1296.8,661.4 L1281.6,654.1 L1265.7,648.4 L1249.3,644.3 L1232.7,641.9 L1216,641.3 L1202,642.1 L1185.8,644.7 L1169.9,649 L1154.6,655 L1142.4,661.2 L1128.8,670 L1116.2,680.3 L1106.5,690 L1096.1,702.6 L1087.2,716.3 L1079.9,730.8 L1074.2,746.2Z" fill="none" stroke="#3a3a3a" stroke-width="1.3"/>
<g transform="translate(1098.1,828.8) rotate(-9.23) scale(0.653)" fill="#d6d6d6" stroke="#d6d6d6" stroke-linecap="round"><text x="0" y="0" font-family="'Liberation Serif', serif" font-size="20" stroke-width="0.5" textLength="69.7" lengthAdjust="spacingAndGlyphs">A<tspan font-size="15">RCHER</tspan></text><path d="M-4.8,-15.4 L-5.0,4.6" stroke-width="1.4" fill="none"/><path d="M-9.1,-9.6 Q-23.9,-12.5 -31.5,5.0" stroke-width="1.7" fill="none"/><path d="M-23.5,-17.8 C-12.8,-15.1 -9.1,-3.6 -16.7,6.0" stroke-width="1.2" fill="none"/><circle cx="-28.7" cy="-10.3" r="2.6" stroke-width="1.1" fill="none"/></g>
<text x="0" y="0" transform="matrix(0.9126 0 0 1 379.62 569.40)" font-family='"Liberation Sans", sans-serif' font-weight="bold" font-size="32.41" fill="#ffffff" stroke="#ffffff" stroke-width="1.20" stroke-linejoin="round" >FITS UP TO</text>
<text x="0" y="0" transform="matrix(0.9865 0 0 1 406.59 646.90)" font-family='"Liberation Sans", sans-serif' font-weight="bold" font-size="82.23" fill="#ffffff" stroke="#ffffff" stroke-width="1.40" stroke-linejoin="round" >13&quot;</text>
<text x="0" y="0" transform="matrix(0.8942 0 0 1 698.13 260.70)" font-family='"Liberation Sans", sans-serif' font-weight="bold" font-size="32.85" fill="#ffffff" stroke="#ffffff" stroke-width="1.20" stroke-linejoin="round" >FITS UP TO</text>
<text x="0" y="0" transform="matrix(1.0124 0 0 1 725.42 337.30)" font-family='"Liberation Sans", sans-serif' font-weight="bold" font-size="82.85" fill="#ffffff" stroke="#ffffff" stroke-width="1.40" stroke-linejoin="round" >11&quot;</text>
<text x="0" y="0" transform="matrix(0.9266 0 0 1 800.14 785.10)" font-family='"Liberation Sans", sans-serif' font-weight="bold" font-size="31.54" fill="#ffffff" stroke="#ffffff" stroke-width="1.20" stroke-linejoin="round" >FITS UP TO</text>
<text x="0" y="0" transform="matrix(0.8957 0 0 1 848.56 862.50)" font-family='"Liberation Sans", sans-serif' font-weight="bold" font-size="87.25" fill="#ffffff" stroke="#ffffff" stroke-width="1.40" stroke-linejoin="round" >9&quot;</text>
<text x="0" y="0" transform="matrix(0.9747 0 0 1 1091.63 416.40)" font-family='"Liberation Sans", sans-serif' font-weight="bold" font-size="30.23" fill="#ffffff" stroke="#ffffff" stroke-width="1.20" stroke-linejoin="round" >FITS UP TO</text>
<text x="0" y="0" transform="matrix(0.9601 0 0 1 1139.95 490.80)" font-family='"Liberation Sans", sans-serif' font-weight="bold" font-size="83.58" fill="#ffffff" stroke="#ffffff" stroke-width="1.40" stroke-linejoin="round" >7&quot;</text>
<text x="0" y="0" transform="matrix(0.9063 0 0 1 1162.14 754.80)" font-family='"Liberation Sans", sans-serif' font-weight="bold" font-size="32.27" fill="#ffffff" stroke="#ffffff" stroke-width="1.20" stroke-linejoin="round" >FITS UP TO</text>
<text x="0" y="0" transform="matrix(0.9010 0 0 1 1208.18 829.70)" font-family='"Liberation Sans", sans-serif' font-weight="bold" font-size="86.48" fill="#ffffff" stroke="#ffffff" stroke-width="1.40" stroke-linejoin="round" >5&quot;</text>
<text x="0" y="0" transform="matrix(0.9555 0 0 1 96.97 1390.35)" font-family='"Liberation Sans", sans-serif' font-weight="bold" font-size="43.46" fill="#595959" stroke="#595959" stroke-width="0.90" stroke-linejoin="round" >Freezer</text>
<text x="0" y="0" transform="matrix(0.9864 0 0 1 335.72 1390.35)" font-family='"Liberation Sans", sans-serif' font-weight="bold" font-size="42.84" fill="#595959" stroke="#595959" stroke-width="0.90" stroke-linejoin="round" >Stovetop</text>
<text x="0" y="0" transform="matrix(1.0031 0 0 1 586.53 1390.35)" font-family='"Liberation Sans", sans-serif' font-weight="bold" font-size="43.46" fill="#595959" stroke="#595959" stroke-width="0.90" stroke-linejoin="round" >Microwave</text>
<text x="0" y="0" transform="matrix(1.0076 0 0 1 936.28 1390.35)" font-family='"Liberation Sans", sans-serif' font-weight="bold" font-size="42.84" fill="#595959" stroke="#595959" stroke-width="0.90" stroke-linejoin="round" >Oven</text>
<text x="0" y="0" transform="matrix(0.9643 0 0 1 1144.94 1390.35)" font-family='"Liberation Sans", sans-serif' font-weight="bold" font-size="43.46" fill="#595959" stroke="#595959" stroke-width="0.90" stroke-linejoin="round" >Dishwasher</text>
<g id="icons" fill="#5a5a5a">
<!-- Freezer -->
<path d="M86.8,1148.2 L240,1146 Q264.8,1146 264.8,1170 L264.8,1315 Q264.8,1339.3 240,1339.3 L96,1339.3 Q71.4,1339.3 71.4,1315 L71.4,1176 Q71.4,1157 86.8,1148.2 Z"/><path d="M95,1153.8 L240,1153.6 Q257.2,1153.6 257.2,1171 L257.2,1314 Q257.2,1331.7 239.5,1331.7 L96.5,1331.7 Q78.9,1331.7 78.9,1314 L78.9,1176 Q78.9,1158 95,1153.8 Z" fill="#fff"/>
<g stroke="#5a5a5a" stroke-width="11.4" stroke-linecap="round" fill="none" transform="translate(168.9,1243.4)">
<g id="arm"><path d="M0,0 L0,-79 M0,-46 L-17,-63.5 M0,-46 L17,-63.5 M0,0 L0,79 M0,46 L-17,63.5 M0,46 L17,63.5"/></g>
<use href="#arm" transform="rotate(60)"/>
<use href="#arm" transform="rotate(-60)"/>
</g>
<!-- Stovetop -->
<path d="M346.2,1148.8 L503.1,1148.8 L519.8,1159 L329.4,1159 Z"/>
<rect x="327.6" y="1162.3" width="193.7" height="160.5" rx="3"/>
<rect x="343.7" y="1198.5" width="162" height="108.4" rx="2" fill="#fff"/>
<rect x="366.2" y="1214.2" width="116.8" height="5.8" rx="2.9"/>
<circle cx="368" cy="1179.3" r="10.6" fill="#fff"/>
<circle cx="394.8" cy="1179.3" r="10.6" fill="#fff"/>
<circle cx="454.4" cy="1179.3" r="10.6" fill="#fff"/>
<circle cx="481" cy="1179.3" r="10.6" fill="#fff"/>
<rect x="348.3" y="1326.5" width="20.8" height="13.4" rx="3"/>
<rect x="480.6" y="1326.5" width="20.3" height="13.4" rx="3"/>
<!-- Microwave -->
<rect x="584.9" y="1150.9" width="226.3" height="160" rx="4"/>
<rect x="598.4" y="1163.9" width="143.2" height="134.4" rx="3" fill="#fff"/>
<rect x="714.3" y="1181.2" width="7.8" height="99.3" rx="3.9"/>
<rect x="754.9" y="1163.9" width="45.9" height="26.3" fill="#fff"/>
<rect x="754.9" y="1201.9" width="7" height="7" rx="2" fill="#fff"/>
<rect x="774.3" y="1201.9" width="7" height="7" rx="2" fill="#fff"/>
<rect x="793.6" y="1201.9" width="7" height="7" rx="2" fill="#fff"/>
<rect x="584.9" y="1316.5" width="226.3" height="22.5" rx="4"/>
<!-- Oven -->
<rect x="874.3" y="1146.9" width="228.6" height="187.3"/>
<rect x="889.2" y="1163.8" width="43.6" height="24.3" fill="#fff"/>
<rect x="945.2" y="1164.2" width="10.8" height="26.8" fill="#fff"/>
<rect x="965.9" y="1164.2" width="10.5" height="26.8" fill="#fff"/>
<circle cx="1004.4" cy="1176.5" r="13.6" fill="#fff"/>
<circle cx="1039.6" cy="1176.5" r="13.6" fill="#fff"/>
<circle cx="1076.9" cy="1176.5" r="13.6" fill="#fff"/>
<rect x="888.2" y="1202" width="197.7" height="124.3" fill="#fff"/>
<rect x="896" y="1334" width="21" height="7"/>
<rect x="1060.5" y="1334" width="21" height="7"/>
<g transform="translate(915,1215) scale(0.10381)">
<path d="M85,720 L125,720 L125,770 L235,770 C290,610 430,480 610,440 C650,430 680,426 700,425 C660,470 625,530 625,590 C625,620 640,650 660,665 C665,600 680,520 730,450 C745,432 760,428 780,425 C900,400 1020,385 1090,350 C1150,320 1170,250 1200,155 C1280,220 1370,330 1390,450 C1395,490 1360,485 1330,465 C1290,440 1250,400 1215,395 C1195,400 1190,430 1195,480 L1215,770 L1290,770 L1290,685 L1330,685 L1330,1030 L85,1030 Z"/>
<path d="M610,65 C660,110 665,160 620,210 C585,250 580,275 600,300 C560,280 545,240 580,195 C615,150 625,110 610,65 Z"/>
<path d="M735,160 C775,195 770,235 730,270 C705,295 705,315 720,330 C690,320 680,290 705,255 C735,220 745,195 735,160 Z"/>
</g>
<!-- Dishwasher -->
<rect x="1166" y="1149.1" width="191.1" height="191.1" rx="8.5" fill="none" stroke="#5a5a5a" stroke-width="2.3"/>
<rect x="1199.2" y="1172.5" width="124.5" height="143.5" fill="none" stroke="#5a5a5a" stroke-width="2.7"/>
<rect x="1199" y="1198.9" width="125" height="4.3"/>
<circle cx="1213.9" cy="1186.5" r="5.7" fill="none" stroke="#5a5a5a" stroke-width="1.7"/>
<circle cx="1231.3" cy="1186.5" r="5.7" fill="none" stroke="#5a5a5a" stroke-width="1.7"/>
<circle cx="1308.8" cy="1186.5" r="5.7" fill="none" stroke="#5a5a5a" stroke-width="1.7"/>
<rect x="1204.4" y="1271.5" width="114.8" height="37.1"/>
<rect x="1204.4" y="1235.2" width="24" height="41"/>
<path d="M1228,1241.1 C1235,1240.5 1238.6,1244.5 1238.2,1248.3 C1237.8,1252 1233,1256 1229.9,1258.8 L1229.9,1272 L1228,1272 Z"/><path d="M1228.5,1244.4 C1231.5,1244.2 1234.5,1246 1234.3,1248.3 C1234,1250.8 1231,1253 1228.5,1254.4 Z" fill="#fff"/>
<path d="M1240.4,1238.3 L1242.6,1238.3 L1242.6,1248.3 L1246.8,1248.3 L1246.8,1238.3 L1249,1238.3 L1249,1248.3 L1254,1248.3 L1254,1238.3 L1256.2,1238.3 L1256.2,1249 C1256,1252.5 1251.5,1256 1249.6,1257.7 L1249.6,1272 L1247.1,1272 L1247.1,1257.7 C1245,1256 1240.6,1252.5 1240.4,1249 Z"/>
<ellipse cx="1268" cy="1248.3" rx="7.9" ry="11.1"/>
<rect x="1266.6" y="1255" width="2.8" height="18"/>
<path d="M1285.8,1272 C1285.8,1250 1300,1235.2 1319.2,1235.2 L1319.2,1272 Z"/>
<g fill="#fff">
<rect x="1206.6" y="1277.3" width="110.4" height="2.2"/>
<rect x="1206.6" y="1284.6" width="110.4" height="2.2"/>
<rect x="1206.6" y="1292.6" width="110.4" height="1.8"/>
<rect x="1206.6" y="1299.9" width="110.4" height="2.1"/>
<rect x="1219.5" y="1275" width="2.4" height="32"/>
<rect x="1234.2" y="1275" width="2.4" height="32"/>
<rect x="1250.4" y="1275" width="2.4" height="32"/>
<rect x="1270.1" y="1275" width="2.4" height="32"/>
<rect x="1286.8" y="1275" width="2.4" height="32"/>
<rect x="1304.9" y="1275" width="2.4" height="32"/>
</g>
</g>

</svg>
</body></html>
